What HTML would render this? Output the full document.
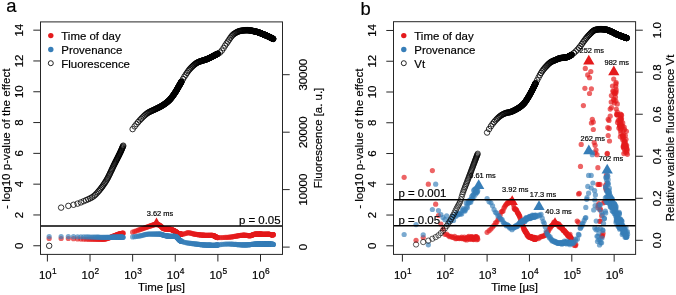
<!DOCTYPE html>
<html><head><meta charset="utf-8"><style>
html,body{margin:0;padding:0;background:#fff;width:676px;height:295px;overflow:hidden}
svg{display:block;will-change:transform}
</style></head><body>
<svg width="676" height="295" viewBox="0 0 676 295">
<rect width="676" height="295" fill="#fff"/>
<g fill="#E41A1C" fill-opacity="0.68"><circle cx="49.16" cy="238.5" r="2.6"/><circle cx="61.13" cy="238.5" r="2.6"/><circle cx="68.34" cy="238.5" r="2.6"/><circle cx="73.52" cy="238.66" r="2.6"/><circle cx="77.56" cy="238.89" r="2.6"/><circle cx="80.87" cy="239.03" r="2.6"/><circle cx="83.68" cy="239.14" r="2.6"/><circle cx="86.12" cy="239.23" r="2.6"/><circle cx="88.27" cy="239.29" r="2.6"/><circle cx="90.2" cy="239.3" r="2.6"/><circle cx="91.95" cy="239.3" r="2.6"/><circle cx="93.55" cy="239.3" r="2.6"/><circle cx="95.02" cy="239.3" r="2.6"/><circle cx="96.38" cy="239.3" r="2.6"/><circle cx="97.65" cy="239.3" r="2.6"/><circle cx="98.83" cy="239.3" r="2.6"/><circle cx="99.95" cy="239.3" r="2.6"/><circle cx="101" cy="239.3" r="2.6"/><circle cx="102" cy="239.3" r="2.6"/><circle cx="102.94" cy="239.3" r="2.6"/><circle cx="103.84" cy="239.26" r="2.6"/><circle cx="104.7" cy="239.13" r="2.6"/><circle cx="105.52" cy="238.95" r="2.6"/><circle cx="106.3" cy="238.74" r="2.6"/><circle cx="107.05" cy="238.5" r="2.6"/><circle cx="107.78" cy="238.26" r="2.6"/><circle cx="108.47" cy="238.02" r="2.6"/><circle cx="109.14" cy="237.78" r="2.6"/><circle cx="109.79" cy="237.57" r="2.6"/><circle cx="110.42" cy="237.36" r="2.6"/><circle cx="111.02" cy="237.14" r="2.6"/><circle cx="111.61" cy="236.91" r="2.6"/><circle cx="112.18" cy="236.67" r="2.6"/><circle cx="112.73" cy="236.43" r="2.6"/><circle cx="113.26" cy="236.2" r="2.6"/><circle cx="113.78" cy="235.98" r="2.6"/><circle cx="114.29" cy="235.78" r="2.6"/><circle cx="114.78" cy="235.58" r="2.6"/><circle cx="115.26" cy="235.4" r="2.6"/><circle cx="115.73" cy="235.23" r="2.6"/><circle cx="116.18" cy="235.06" r="2.6"/><circle cx="116.63" cy="234.89" r="2.6"/><circle cx="117.06" cy="234.73" r="2.6"/><circle cx="117.49" cy="234.57" r="2.6"/><circle cx="117.9" cy="234.43" r="2.6"/><circle cx="118.31" cy="234.29" r="2.6"/><circle cx="118.7" cy="234.16" r="2.6"/><circle cx="119.09" cy="234.04" r="2.6"/><circle cx="119.47" cy="233.93" r="2.6"/><circle cx="119.85" cy="233.84" r="2.6"/><circle cx="120.21" cy="233.75" r="2.6"/><circle cx="120.57" cy="233.67" r="2.6"/><circle cx="120.92" cy="233.59" r="2.6"/><circle cx="121.27" cy="233.52" r="2.6"/><circle cx="121.61" cy="233.45" r="2.6"/><circle cx="121.94" cy="233.38" r="2.6"/><circle cx="122.27" cy="233.32" r="2.6"/><circle cx="122.59" cy="233.26" r="2.6"/><circle cx="122.91" cy="233.21" r="2.6"/><circle cx="123.22" cy="233.16" r="2.6"/><circle cx="132.64" cy="232.2" r="2.6"/><circle cx="134.65" cy="231.47" r="2.6"/><circle cx="136.47" cy="230.81" r="2.6"/><circle cx="138.13" cy="230.22" r="2.6"/><circle cx="139.64" cy="229.68" r="2.6"/><circle cx="141.05" cy="229.18" r="2.6"/><circle cx="142.35" cy="228.72" r="2.6"/><circle cx="143.57" cy="228.29" r="2.6"/><circle cx="144.71" cy="227.89" r="2.6"/><circle cx="145.79" cy="227.51" r="2.6"/><circle cx="146.81" cy="227.16" r="2.6"/><circle cx="147.77" cy="226.82" r="2.6"/><circle cx="148.69" cy="226.49" r="2.6"/><circle cx="149.56" cy="226.19" r="2.6"/><circle cx="150.4" cy="225.9" r="2.6"/><circle cx="151.2" cy="225.63" r="2.6"/><circle cx="151.96" cy="225.37" r="2.6"/><circle cx="152.7" cy="225.14" r="2.6"/><circle cx="153.4" cy="224.87" r="2.6"/><circle cx="154.08" cy="224.6" r="2.6"/><circle cx="154.74" cy="224.35" r="2.6"/><circle cx="155.37" cy="224.16" r="2.6"/><circle cx="155.99" cy="224.04" r="2.6"/><circle cx="156.58" cy="224" r="2.6"/><circle cx="157.15" cy="224.08" r="2.6"/><circle cx="157.71" cy="224.26" r="2.6"/><circle cx="158.25" cy="224.51" r="2.6"/><circle cx="158.78" cy="224.79" r="2.6"/><circle cx="159.29" cy="225.09" r="2.6"/><circle cx="159.79" cy="225.38" r="2.6"/><circle cx="160.27" cy="225.67" r="2.6"/><circle cx="160.75" cy="226.05" r="2.6"/><circle cx="161.21" cy="226.48" r="2.6"/><circle cx="161.66" cy="226.94" r="2.6"/><circle cx="162.09" cy="227.39" r="2.6"/><circle cx="162.52" cy="227.81" r="2.6"/><circle cx="162.94" cy="228.17" r="2.6"/><circle cx="163.35" cy="228.45" r="2.6"/><circle cx="163.75" cy="228.64" r="2.6"/><circle cx="164.14" cy="228.72" r="2.6"/><circle cx="164.53" cy="228.78" r="2.6"/><circle cx="164.9" cy="228.82" r="2.6"/><circle cx="165.27" cy="228.85" r="2.6"/><circle cx="165.63" cy="228.88" r="2.6"/><circle cx="165.99" cy="228.91" r="2.6"/><circle cx="166.34" cy="228.93" r="2.6"/><circle cx="166.68" cy="228.95" r="2.6"/><circle cx="167.01" cy="228.96" r="2.6"/><circle cx="167.34" cy="228.98" r="2.6"/><circle cx="167.67" cy="229" r="2.6"/><circle cx="167.98" cy="229.02" r="2.6"/><circle cx="168.3" cy="229.03" r="2.6"/><circle cx="168.61" cy="229.06" r="2.6"/><circle cx="168.91" cy="229.08" r="2.6"/><circle cx="169.21" cy="229.11" r="2.6"/><circle cx="169.5" cy="229.14" r="2.6"/><circle cx="169.79" cy="229.17" r="2.6"/><circle cx="170.07" cy="229.21" r="2.6"/><circle cx="170.35" cy="229.26" r="2.6"/><circle cx="170.63" cy="229.32" r="2.6"/><circle cx="170.9" cy="229.39" r="2.6"/><circle cx="171.16" cy="229.47" r="2.6"/><circle cx="171.43" cy="229.56" r="2.6"/><circle cx="171.69" cy="229.65" r="2.6"/><circle cx="171.94" cy="229.75" r="2.6"/><circle cx="172.2" cy="229.86" r="2.6"/><circle cx="172.45" cy="229.96" r="2.6"/><circle cx="172.69" cy="230.07" r="2.6"/><circle cx="172.94" cy="230.19" r="2.6"/><circle cx="173.18" cy="230.3" r="2.6"/><circle cx="173.41" cy="230.42" r="2.6"/><circle cx="173.65" cy="230.53" r="2.6"/><circle cx="173.88" cy="230.65" r="2.6"/><circle cx="174.1" cy="230.76" r="2.6"/><circle cx="174.33" cy="230.87" r="2.6"/><circle cx="174.55" cy="230.98" r="2.6"/><circle cx="174.77" cy="231.09" r="2.6"/><circle cx="174.99" cy="231.2" r="2.6"/><circle cx="175.2" cy="231.3" r="2.6"/><circle cx="175.42" cy="231.43" r="2.6"/><circle cx="175.63" cy="231.56" r="2.6"/><circle cx="175.83" cy="231.7" r="2.6"/><circle cx="176.04" cy="231.85" r="2.6"/><circle cx="176.24" cy="232" r="2.6"/><circle cx="176.44" cy="232.16" r="2.6"/><circle cx="176.64" cy="232.31" r="2.6"/><circle cx="176.84" cy="232.47" r="2.6"/><circle cx="177.03" cy="232.63" r="2.6"/><circle cx="177.22" cy="232.78" r="2.6"/><circle cx="177.42" cy="232.93" r="2.6"/><circle cx="177.6" cy="233.08" r="2.6"/><circle cx="177.79" cy="233.22" r="2.6"/><circle cx="177.98" cy="233.36" r="2.6"/><circle cx="178.16" cy="233.48" r="2.6"/><circle cx="178.34" cy="233.6" r="2.6"/><circle cx="178.52" cy="233.71" r="2.6"/><circle cx="178.7" cy="233.82" r="2.6"/><circle cx="178.87" cy="233.91" r="2.6"/><circle cx="179.05" cy="233.98" r="2.6"/><circle cx="179.22" cy="234.05" r="2.6"/><circle cx="179.39" cy="234.11" r="2.6"/><circle cx="179.56" cy="234.15" r="2.6"/><circle cx="179.73" cy="234.18" r="2.6"/><circle cx="179.89" cy="234.2" r="2.6"/><circle cx="180.06" cy="234.2" r="2.6"/><circle cx="180.22" cy="234.2" r="2.6"/><circle cx="180.38" cy="234.2" r="2.6"/><circle cx="180.55" cy="234.19" r="2.6"/><circle cx="180.7" cy="234.19" r="2.6"/><circle cx="180.86" cy="234.18" r="2.6"/><circle cx="181.02" cy="234.17" r="2.6"/><circle cx="181.17" cy="234.16" r="2.6"/><circle cx="181.33" cy="234.15" r="2.6"/><circle cx="181.48" cy="234.14" r="2.6"/><circle cx="181.49" cy="234.14" r="2.6"/><circle cx="183.01" cy="233.99" r="2.6"/><circle cx="184.42" cy="233.79" r="2.6"/><circle cx="185.72" cy="233.49" r="2.6"/><circle cx="186.94" cy="232.95" r="2.6"/><circle cx="188.09" cy="232.7" r="2.6"/><circle cx="189.17" cy="232.79" r="2.6"/><circle cx="190.19" cy="232.98" r="2.6"/><circle cx="191.15" cy="233.22" r="2.6"/><circle cx="192.07" cy="233.49" r="2.6"/><circle cx="192.95" cy="233.74" r="2.6"/><circle cx="193.78" cy="233.96" r="2.6"/><circle cx="194.58" cy="234.13" r="2.6"/><circle cx="195.35" cy="234.25" r="2.6"/><circle cx="196.08" cy="234.36" r="2.6"/><circle cx="196.79" cy="234.46" r="2.6"/><circle cx="197.47" cy="234.55" r="2.6"/><circle cx="198.13" cy="234.64" r="2.6"/><circle cx="198.76" cy="234.72" r="2.6"/><circle cx="199.38" cy="234.79" r="2.6"/><circle cx="199.97" cy="234.86" r="2.6"/><circle cx="200.55" cy="234.93" r="2.6"/><circle cx="201.1" cy="234.98" r="2.6"/><circle cx="201.65" cy="235.03" r="2.6"/><circle cx="202.17" cy="235.08" r="2.6"/><circle cx="202.68" cy="235.12" r="2.6"/><circle cx="203.18" cy="235.15" r="2.6"/><circle cx="203.67" cy="235.18" r="2.6"/><circle cx="204.14" cy="235.21" r="2.6"/><circle cx="204.6" cy="235.23" r="2.6"/><circle cx="205.05" cy="235.25" r="2.6"/><circle cx="205.49" cy="235.26" r="2.6"/><circle cx="205.92" cy="235.27" r="2.6"/><circle cx="206.34" cy="235.29" r="2.6"/><circle cx="206.75" cy="235.3" r="2.6"/><circle cx="207.15" cy="235.3" r="2.6"/><circle cx="207.54" cy="235.31" r="2.6"/><circle cx="207.92" cy="235.32" r="2.6"/><circle cx="208.3" cy="235.33" r="2.6"/><circle cx="208.67" cy="235.34" r="2.6"/><circle cx="209.03" cy="235.34" r="2.6"/><circle cx="209.39" cy="235.35" r="2.6"/><circle cx="209.73" cy="235.36" r="2.6"/><circle cx="210.08" cy="235.37" r="2.6"/><circle cx="210.41" cy="235.38" r="2.6"/><circle cx="210.74" cy="235.39" r="2.6"/><circle cx="211.07" cy="235.4" r="2.6"/><circle cx="211.38" cy="235.41" r="2.6"/><circle cx="211.7" cy="235.43" r="2.6"/><circle cx="212" cy="235.44" r="2.6"/><circle cx="212.31" cy="235.46" r="2.6"/><circle cx="212.6" cy="235.47" r="2.6"/><circle cx="212.9" cy="235.49" r="2.6"/><circle cx="213.19" cy="235.52" r="2.6"/><circle cx="213.47" cy="235.58" r="2.6"/><circle cx="213.75" cy="235.66" r="2.6"/><circle cx="214.03" cy="235.77" r="2.6"/><circle cx="214.3" cy="235.9" r="2.6"/><circle cx="214.56" cy="236.04" r="2.6"/><circle cx="214.83" cy="236.19" r="2.6"/><circle cx="215.09" cy="236.34" r="2.6"/><circle cx="215.34" cy="236.5" r="2.6"/><circle cx="215.6" cy="236.65" r="2.6"/><circle cx="215.85" cy="236.8" r="2.6"/><circle cx="216.09" cy="236.95" r="2.6"/><circle cx="216.34" cy="237.08" r="2.6"/><circle cx="216.58" cy="237.21" r="2.6"/><circle cx="216.81" cy="237.32" r="2.6"/><circle cx="217.05" cy="237.41" r="2.6"/><circle cx="217.28" cy="237.49" r="2.6"/><circle cx="217.51" cy="237.55" r="2.6"/><circle cx="217.73" cy="237.58" r="2.6"/><circle cx="217.88" cy="237.6" r="2.6"/><circle cx="219.98" cy="237.58" r="2.6"/><circle cx="221.86" cy="237.54" r="2.6"/><circle cx="223.57" cy="237.49" r="2.6"/><circle cx="225.14" cy="237.43" r="2.6"/><circle cx="226.58" cy="237.37" r="2.6"/><circle cx="227.92" cy="237.3" r="2.6"/><circle cx="229.17" cy="237.22" r="2.6"/><circle cx="230.34" cy="237.1" r="2.6"/><circle cx="231.44" cy="236.95" r="2.6"/><circle cx="232.47" cy="236.79" r="2.6"/><circle cx="233.46" cy="236.62" r="2.6"/><circle cx="234.39" cy="236.46" r="2.6"/><circle cx="235.28" cy="236.29" r="2.6"/><circle cx="236.13" cy="236.13" r="2.6"/><circle cx="236.94" cy="235.99" r="2.6"/><circle cx="237.71" cy="235.85" r="2.6"/><circle cx="238.46" cy="235.72" r="2.6"/><circle cx="239.18" cy="235.61" r="2.6"/><circle cx="239.87" cy="235.51" r="2.6"/><circle cx="240.53" cy="235.43" r="2.6"/><circle cx="241.17" cy="235.35" r="2.6"/><circle cx="241.79" cy="235.3" r="2.6"/><circle cx="242.39" cy="235.25" r="2.6"/><circle cx="242.98" cy="235.22" r="2.6"/><circle cx="243.54" cy="235.2" r="2.6"/><circle cx="244.09" cy="235.2" r="2.6"/><circle cx="244.62" cy="235.21" r="2.6"/><circle cx="245.13" cy="235.25" r="2.6"/><circle cx="245.64" cy="235.29" r="2.6"/><circle cx="246.13" cy="235.34" r="2.6"/><circle cx="246.6" cy="235.4" r="2.6"/><circle cx="247.07" cy="235.46" r="2.6"/><circle cx="247.52" cy="235.51" r="2.6"/><circle cx="247.96" cy="235.57" r="2.6"/><circle cx="248.4" cy="235.61" r="2.6"/><circle cx="248.82" cy="235.65" r="2.6"/><circle cx="249.23" cy="235.68" r="2.6"/><circle cx="249.64" cy="235.69" r="2.6"/><circle cx="250.03" cy="235.7" r="2.6"/><circle cx="250.42" cy="235.67" r="2.6"/><circle cx="250.8" cy="235.6" r="2.6"/><circle cx="251.17" cy="235.49" r="2.6"/><circle cx="251.53" cy="235.36" r="2.6"/><circle cx="251.89" cy="235.22" r="2.6"/><circle cx="252.24" cy="235.07" r="2.6"/><circle cx="252.58" cy="234.91" r="2.6"/><circle cx="252.92" cy="234.76" r="2.6"/><circle cx="253.25" cy="234.62" r="2.6"/><circle cx="253.58" cy="234.49" r="2.6"/><circle cx="253.9" cy="234.39" r="2.6"/><circle cx="254.21" cy="234.3" r="2.6"/><circle cx="254.52" cy="234.24" r="2.6"/><circle cx="254.83" cy="234.21" r="2.6"/><circle cx="255.13" cy="234.2" r="2.6"/><circle cx="255.42" cy="234.2" r="2.6"/><circle cx="255.71" cy="234.2" r="2.6"/><circle cx="256" cy="234.2" r="2.6"/><circle cx="256.28" cy="234.2" r="2.6"/><circle cx="256.55" cy="234.2" r="2.6"/><circle cx="256.83" cy="234.2" r="2.6"/><circle cx="257.1" cy="234.2" r="2.6"/><circle cx="257.36" cy="234.2" r="2.6"/><circle cx="257.62" cy="234.2" r="2.6"/><circle cx="257.88" cy="234.2" r="2.6"/><circle cx="258.13" cy="234.2" r="2.6"/><circle cx="258.38" cy="234.2" r="2.6"/><circle cx="258.63" cy="234.2" r="2.6"/><circle cx="258.88" cy="234.2" r="2.6"/><circle cx="259.12" cy="234.21" r="2.6"/><circle cx="259.35" cy="234.21" r="2.6"/><circle cx="259.59" cy="234.21" r="2.6"/><circle cx="259.82" cy="234.21" r="2.6"/><circle cx="260.05" cy="234.21" r="2.6"/><circle cx="260.28" cy="234.21" r="2.6"/><circle cx="260.5" cy="234.21" r="2.6"/><circle cx="260.72" cy="234.22" r="2.6"/><circle cx="260.94" cy="234.22" r="2.6"/><circle cx="261.15" cy="234.22" r="2.6"/><circle cx="261.37" cy="234.22" r="2.6"/><circle cx="261.58" cy="234.22" r="2.6"/><circle cx="261.79" cy="234.23" r="2.6"/><circle cx="261.99" cy="234.23" r="2.6"/><circle cx="262.2" cy="234.23" r="2.6"/><circle cx="262.4" cy="234.23" r="2.6"/><circle cx="262.6" cy="234.24" r="2.6"/><circle cx="262.79" cy="234.24" r="2.6"/><circle cx="262.99" cy="234.24" r="2.6"/><circle cx="263.18" cy="234.25" r="2.6"/><circle cx="263.37" cy="234.25" r="2.6"/><circle cx="263.56" cy="234.25" r="2.6"/><circle cx="263.75" cy="234.26" r="2.6"/><circle cx="263.94" cy="234.26" r="2.6"/><circle cx="264.12" cy="234.27" r="2.6"/><circle cx="264.3" cy="234.27" r="2.6"/><circle cx="264.48" cy="234.27" r="2.6"/><circle cx="264.66" cy="234.28" r="2.6"/><circle cx="264.84" cy="234.28" r="2.6"/><circle cx="265.01" cy="234.29" r="2.6"/><circle cx="265.18" cy="234.29" r="2.6"/><circle cx="265.36" cy="234.3" r="2.6"/><circle cx="265.53" cy="234.3" r="2.6"/><circle cx="265.69" cy="234.3" r="2.6"/><circle cx="265.86" cy="234.31" r="2.6"/><circle cx="266.03" cy="234.31" r="2.6"/><circle cx="266.19" cy="234.32" r="2.6"/><circle cx="266.35" cy="234.33" r="2.6"/><circle cx="266.52" cy="234.33" r="2.6"/><circle cx="266.68" cy="234.34" r="2.6"/><circle cx="266.83" cy="234.34" r="2.6"/><circle cx="266.99" cy="234.35" r="2.6"/><circle cx="267.15" cy="234.35" r="2.6"/><circle cx="267.3" cy="234.36" r="2.6"/><circle cx="267.45" cy="234.37" r="2.6"/><circle cx="267.61" cy="234.37" r="2.6"/><circle cx="267.76" cy="234.38" r="2.6"/><circle cx="267.91" cy="234.38" r="2.6"/><circle cx="268.05" cy="234.39" r="2.6"/><circle cx="268.2" cy="234.4" r="2.6"/><circle cx="268.35" cy="234.4" r="2.6"/><circle cx="268.49" cy="234.41" r="2.6"/><circle cx="268.64" cy="234.42" r="2.6"/><circle cx="268.78" cy="234.42" r="2.6"/><circle cx="268.92" cy="234.43" r="2.6"/><circle cx="269.06" cy="234.44" r="2.6"/><circle cx="269.2" cy="234.45" r="2.6"/><circle cx="269.34" cy="234.45" r="2.6"/><circle cx="269.48" cy="234.46" r="2.6"/><circle cx="269.61" cy="234.47" r="2.6"/><circle cx="269.75" cy="234.47" r="2.6"/><circle cx="269.88" cy="234.48" r="2.6"/><circle cx="270.01" cy="234.49" r="2.6"/><circle cx="270.15" cy="234.5" r="2.6"/><circle cx="270.28" cy="234.51" r="2.6"/><circle cx="270.41" cy="234.51" r="2.6"/><circle cx="270.54" cy="234.52" r="2.6"/><circle cx="270.67" cy="234.53" r="2.6"/><circle cx="270.79" cy="234.54" r="2.6"/><circle cx="270.92" cy="234.55" r="2.6"/><circle cx="271.05" cy="234.55" r="2.6"/><circle cx="271.17" cy="234.56" r="2.6"/><circle cx="271.3" cy="234.57" r="2.6"/><circle cx="271.42" cy="234.58" r="2.6"/><circle cx="271.54" cy="234.59" r="2.6"/><circle cx="271.67" cy="234.6" r="2.6"/><circle cx="271.79" cy="234.61" r="2.6"/><circle cx="271.91" cy="234.61" r="2.6"/><circle cx="272.03" cy="234.62" r="2.6"/><circle cx="272.15" cy="234.63" r="2.6"/><circle cx="272.26" cy="234.64" r="2.6"/><circle cx="272.38" cy="234.65" r="2.6"/><circle cx="272.5" cy="234.66" r="2.6"/><circle cx="272.61" cy="234.67" r="2.6"/><circle cx="272.73" cy="234.68" r="2.6"/><circle cx="272.84" cy="234.69" r="2.6"/><circle cx="272.96" cy="234.7" r="2.6"/><circle cx="273.07" cy="234.71" r="2.6"/><circle cx="273.18" cy="234.72" r="2.6"/><circle cx="273.29" cy="234.72" r="2.6"/></g>
<g fill="#377EB8" fill-opacity="0.66"><circle cx="49.16" cy="236.6" r="2.6"/><circle cx="61.13" cy="236.6" r="2.6"/><circle cx="68.34" cy="236.6" r="2.6"/><circle cx="73.52" cy="236.66" r="2.6"/><circle cx="77.56" cy="236.75" r="2.6"/><circle cx="80.87" cy="236.82" r="2.6"/><circle cx="83.68" cy="236.87" r="2.6"/><circle cx="86.12" cy="236.92" r="2.6"/><circle cx="88.27" cy="236.97" r="2.6"/><circle cx="90.2" cy="237" r="2.6"/><circle cx="91.95" cy="237.04" r="2.6"/><circle cx="93.55" cy="237.08" r="2.6"/><circle cx="95.02" cy="237.12" r="2.6"/><circle cx="96.38" cy="237.16" r="2.6"/><circle cx="97.65" cy="237.19" r="2.6"/><circle cx="98.83" cy="237.22" r="2.6"/><circle cx="99.95" cy="237.24" r="2.6"/><circle cx="101" cy="237.26" r="2.6"/><circle cx="102" cy="237.28" r="2.6"/><circle cx="102.94" cy="237.29" r="2.6"/><circle cx="103.84" cy="237.3" r="2.6"/><circle cx="104.7" cy="237.3" r="2.6"/><circle cx="105.52" cy="237.3" r="2.6"/><circle cx="106.3" cy="237.3" r="2.6"/><circle cx="107.05" cy="237.29" r="2.6"/><circle cx="107.78" cy="237.28" r="2.6"/><circle cx="108.47" cy="237.27" r="2.6"/><circle cx="109.14" cy="237.26" r="2.6"/><circle cx="109.79" cy="237.25" r="2.6"/><circle cx="110.42" cy="237.24" r="2.6"/><circle cx="111.02" cy="237.23" r="2.6"/><circle cx="111.61" cy="237.23" r="2.6"/><circle cx="112.18" cy="237.22" r="2.6"/><circle cx="112.73" cy="237.21" r="2.6"/><circle cx="113.26" cy="237.21" r="2.6"/><circle cx="113.78" cy="237.2" r="2.6"/><circle cx="114.29" cy="237.2" r="2.6"/><circle cx="114.78" cy="237.2" r="2.6"/><circle cx="115.26" cy="237.2" r="2.6"/><circle cx="115.73" cy="237.2" r="2.6"/><circle cx="116.18" cy="237.2" r="2.6"/><circle cx="116.63" cy="237.2" r="2.6"/><circle cx="117.06" cy="237.2" r="2.6"/><circle cx="117.49" cy="237.2" r="2.6"/><circle cx="117.9" cy="237.2" r="2.6"/><circle cx="118.31" cy="237.2" r="2.6"/><circle cx="118.7" cy="237.2" r="2.6"/><circle cx="119.09" cy="237.2" r="2.6"/><circle cx="119.47" cy="237.2" r="2.6"/><circle cx="119.85" cy="237.2" r="2.6"/><circle cx="120.21" cy="237.2" r="2.6"/><circle cx="120.57" cy="237.2" r="2.6"/><circle cx="120.92" cy="237.2" r="2.6"/><circle cx="121.27" cy="237.2" r="2.6"/><circle cx="121.61" cy="237.2" r="2.6"/><circle cx="121.94" cy="237.2" r="2.6"/><circle cx="122.27" cy="237.2" r="2.6"/><circle cx="122.59" cy="237.22" r="2.6"/><circle cx="122.91" cy="237.24" r="2.6"/><circle cx="123.22" cy="237.27" r="2.6"/><circle cx="132.64" cy="236.94" r="2.6"/><circle cx="134.65" cy="236.68" r="2.6"/><circle cx="136.47" cy="236.43" r="2.6"/><circle cx="138.13" cy="236.19" r="2.6"/><circle cx="139.64" cy="235.94" r="2.6"/><circle cx="141.05" cy="235.65" r="2.6"/><circle cx="142.35" cy="235.32" r="2.6"/><circle cx="143.57" cy="235" r="2.6"/><circle cx="144.71" cy="234.7" r="2.6"/><circle cx="145.79" cy="234.45" r="2.6"/><circle cx="146.81" cy="234.25" r="2.6"/><circle cx="147.77" cy="234.1" r="2.6"/><circle cx="148.69" cy="234.02" r="2.6"/><circle cx="149.56" cy="234" r="2.6"/><circle cx="150.4" cy="234" r="2.6"/><circle cx="151.2" cy="234" r="2.6"/><circle cx="151.96" cy="234" r="2.6"/><circle cx="152.7" cy="234" r="2.6"/><circle cx="153.4" cy="234" r="2.6"/><circle cx="154.08" cy="234" r="2.6"/><circle cx="154.74" cy="234" r="2.6"/><circle cx="155.37" cy="234" r="2.6"/><circle cx="155.99" cy="234" r="2.6"/><circle cx="156.58" cy="234" r="2.6"/><circle cx="157.15" cy="234" r="2.6"/><circle cx="157.71" cy="234" r="2.6"/><circle cx="158.25" cy="234" r="2.6"/><circle cx="158.78" cy="234" r="2.6"/><circle cx="159.29" cy="234" r="2.6"/><circle cx="159.79" cy="234.01" r="2.6"/><circle cx="160.27" cy="234.06" r="2.6"/><circle cx="160.75" cy="234.17" r="2.6"/><circle cx="161.21" cy="234.31" r="2.6"/><circle cx="161.66" cy="234.48" r="2.6"/><circle cx="162.09" cy="234.65" r="2.6"/><circle cx="162.52" cy="234.82" r="2.6"/><circle cx="162.94" cy="234.98" r="2.6"/><circle cx="163.35" cy="235.12" r="2.6"/><circle cx="163.75" cy="235.24" r="2.6"/><circle cx="164.14" cy="235.33" r="2.6"/><circle cx="164.53" cy="235.41" r="2.6"/><circle cx="164.9" cy="235.5" r="2.6"/><circle cx="165.27" cy="235.57" r="2.6"/><circle cx="165.63" cy="235.65" r="2.6"/><circle cx="165.99" cy="235.72" r="2.6"/><circle cx="166.34" cy="235.79" r="2.6"/><circle cx="166.68" cy="235.86" r="2.6"/><circle cx="167.01" cy="235.92" r="2.6"/><circle cx="167.34" cy="235.98" r="2.6"/><circle cx="167.67" cy="236.03" r="2.6"/><circle cx="167.98" cy="236.08" r="2.6"/><circle cx="168.3" cy="236.13" r="2.6"/><circle cx="168.61" cy="236.17" r="2.6"/><circle cx="168.91" cy="236.2" r="2.6"/><circle cx="169.21" cy="236.24" r="2.6"/><circle cx="169.5" cy="236.26" r="2.6"/><circle cx="169.79" cy="236.29" r="2.6"/><circle cx="170.07" cy="236.3" r="2.6"/><circle cx="170.35" cy="236.32" r="2.6"/><circle cx="170.63" cy="236.33" r="2.6"/><circle cx="170.9" cy="236.34" r="2.6"/><circle cx="171.16" cy="236.35" r="2.6"/><circle cx="171.43" cy="236.36" r="2.6"/><circle cx="171.69" cy="236.37" r="2.6"/><circle cx="171.94" cy="236.37" r="2.6"/><circle cx="172.2" cy="236.38" r="2.6"/><circle cx="172.45" cy="236.39" r="2.6"/><circle cx="172.69" cy="236.39" r="2.6"/><circle cx="172.94" cy="236.4" r="2.6"/><circle cx="173.18" cy="236.4" r="2.6"/><circle cx="173.41" cy="236.41" r="2.6"/><circle cx="173.65" cy="236.41" r="2.6"/><circle cx="173.88" cy="236.42" r="2.6"/><circle cx="174.1" cy="236.43" r="2.6"/><circle cx="174.33" cy="236.44" r="2.6"/><circle cx="174.55" cy="236.45" r="2.6"/><circle cx="174.77" cy="236.46" r="2.6"/><circle cx="174.99" cy="236.47" r="2.6"/><circle cx="175.2" cy="236.48" r="2.6"/><circle cx="175.42" cy="236.49" r="2.6"/><circle cx="175.63" cy="236.52" r="2.6"/><circle cx="175.83" cy="236.57" r="2.6"/><circle cx="176.04" cy="236.64" r="2.6"/><circle cx="176.24" cy="236.75" r="2.6"/><circle cx="176.44" cy="236.87" r="2.6"/><circle cx="176.64" cy="237.02" r="2.6"/><circle cx="176.84" cy="237.18" r="2.6"/><circle cx="177.03" cy="237.35" r="2.6"/><circle cx="177.22" cy="237.54" r="2.6"/><circle cx="177.42" cy="237.74" r="2.6"/><circle cx="177.6" cy="237.94" r="2.6"/><circle cx="177.79" cy="238.14" r="2.6"/><circle cx="177.98" cy="238.35" r="2.6"/><circle cx="178.16" cy="238.56" r="2.6"/><circle cx="178.34" cy="238.77" r="2.6"/><circle cx="178.52" cy="238.98" r="2.6"/><circle cx="178.7" cy="239.19" r="2.6"/><circle cx="178.87" cy="239.39" r="2.6"/><circle cx="179.05" cy="239.58" r="2.6"/><circle cx="179.22" cy="239.76" r="2.6"/><circle cx="179.39" cy="239.94" r="2.6"/><circle cx="179.56" cy="240.1" r="2.6"/><circle cx="179.73" cy="240.26" r="2.6"/><circle cx="179.89" cy="240.4" r="2.6"/><circle cx="180.06" cy="240.53" r="2.6"/><circle cx="180.22" cy="240.64" r="2.6"/><circle cx="180.38" cy="240.74" r="2.6"/><circle cx="180.55" cy="240.82" r="2.6"/><circle cx="180.7" cy="240.9" r="2.6"/><circle cx="180.86" cy="240.98" r="2.6"/><circle cx="181.02" cy="241.05" r="2.6"/><circle cx="181.17" cy="241.12" r="2.6"/><circle cx="181.33" cy="241.19" r="2.6"/><circle cx="181.48" cy="241.26" r="2.6"/><circle cx="181.49" cy="241.26" r="2.6"/><circle cx="183.01" cy="241.85" r="2.6"/><circle cx="184.42" cy="242.26" r="2.6"/><circle cx="185.72" cy="242.55" r="2.6"/><circle cx="186.94" cy="242.79" r="2.6"/><circle cx="188.09" cy="242.99" r="2.6"/><circle cx="189.17" cy="243.15" r="2.6"/><circle cx="190.19" cy="243.29" r="2.6"/><circle cx="191.15" cy="243.42" r="2.6"/><circle cx="192.07" cy="243.54" r="2.6"/><circle cx="192.95" cy="243.65" r="2.6"/><circle cx="193.78" cy="243.75" r="2.6"/><circle cx="194.58" cy="243.85" r="2.6"/><circle cx="195.35" cy="243.94" r="2.6"/><circle cx="196.08" cy="244.04" r="2.6"/><circle cx="196.79" cy="244.13" r="2.6"/><circle cx="197.47" cy="244.22" r="2.6"/><circle cx="198.13" cy="244.31" r="2.6"/><circle cx="198.76" cy="244.39" r="2.6"/><circle cx="199.38" cy="244.47" r="2.6"/><circle cx="199.97" cy="244.54" r="2.6"/><circle cx="200.55" cy="244.6" r="2.6"/><circle cx="201.1" cy="244.66" r="2.6"/><circle cx="201.65" cy="244.72" r="2.6"/><circle cx="202.17" cy="244.77" r="2.6"/><circle cx="202.68" cy="244.81" r="2.6"/><circle cx="203.18" cy="244.85" r="2.6"/><circle cx="203.67" cy="244.88" r="2.6"/><circle cx="204.14" cy="244.91" r="2.6"/><circle cx="204.6" cy="244.93" r="2.6"/><circle cx="205.05" cy="244.96" r="2.6"/><circle cx="205.49" cy="244.98" r="2.6"/><circle cx="205.92" cy="245.01" r="2.6"/><circle cx="206.34" cy="245.03" r="2.6"/><circle cx="206.75" cy="245.05" r="2.6"/><circle cx="207.15" cy="245.07" r="2.6"/><circle cx="207.54" cy="245.09" r="2.6"/><circle cx="207.92" cy="245.11" r="2.6"/><circle cx="208.3" cy="245.12" r="2.6"/><circle cx="208.67" cy="245.14" r="2.6"/><circle cx="209.03" cy="245.16" r="2.6"/><circle cx="209.39" cy="245.17" r="2.6"/><circle cx="209.73" cy="245.19" r="2.6"/><circle cx="210.08" cy="245.2" r="2.6"/><circle cx="210.41" cy="245.21" r="2.6"/><circle cx="210.74" cy="245.22" r="2.6"/><circle cx="211.07" cy="245.23" r="2.6"/><circle cx="211.38" cy="245.24" r="2.6"/><circle cx="211.7" cy="245.25" r="2.6"/><circle cx="212" cy="245.26" r="2.6"/><circle cx="212.31" cy="245.27" r="2.6"/><circle cx="212.6" cy="245.27" r="2.6"/><circle cx="212.9" cy="245.28" r="2.6"/><circle cx="213.19" cy="245.28" r="2.6"/><circle cx="213.47" cy="245.29" r="2.6"/><circle cx="213.75" cy="245.29" r="2.6"/><circle cx="214.03" cy="245.3" r="2.6"/><circle cx="214.3" cy="245.3" r="2.6"/><circle cx="214.56" cy="245.3" r="2.6"/><circle cx="214.83" cy="245.3" r="2.6"/><circle cx="215.09" cy="245.3" r="2.6"/><circle cx="215.34" cy="245.29" r="2.6"/><circle cx="215.6" cy="245.27" r="2.6"/><circle cx="215.85" cy="245.24" r="2.6"/><circle cx="216.09" cy="245.21" r="2.6"/><circle cx="216.34" cy="245.17" r="2.6"/><circle cx="216.58" cy="245.13" r="2.6"/><circle cx="216.81" cy="245.09" r="2.6"/><circle cx="217.05" cy="245.04" r="2.6"/><circle cx="217.28" cy="245" r="2.6"/><circle cx="217.51" cy="244.97" r="2.6"/><circle cx="217.73" cy="244.93" r="2.6"/><circle cx="217.88" cy="244.91" r="2.6"/><circle cx="219.98" cy="244.67" r="2.6"/><circle cx="221.86" cy="244.44" r="2.6"/><circle cx="223.57" cy="244.25" r="2.6"/><circle cx="225.14" cy="244.11" r="2.6"/><circle cx="226.58" cy="244.03" r="2.6"/><circle cx="227.92" cy="244" r="2.6"/><circle cx="229.17" cy="244.01" r="2.6"/><circle cx="230.34" cy="244.05" r="2.6"/><circle cx="231.44" cy="244.11" r="2.6"/><circle cx="232.47" cy="244.17" r="2.6"/><circle cx="233.46" cy="244.24" r="2.6"/><circle cx="234.39" cy="244.32" r="2.6"/><circle cx="235.28" cy="244.39" r="2.6"/><circle cx="236.13" cy="244.46" r="2.6"/><circle cx="236.94" cy="244.53" r="2.6"/><circle cx="237.71" cy="244.59" r="2.6"/><circle cx="238.46" cy="244.65" r="2.6"/><circle cx="239.18" cy="244.7" r="2.6"/><circle cx="239.87" cy="244.75" r="2.6"/><circle cx="240.53" cy="244.79" r="2.6"/><circle cx="241.17" cy="244.83" r="2.6"/><circle cx="241.79" cy="244.85" r="2.6"/><circle cx="242.39" cy="244.87" r="2.6"/><circle cx="242.98" cy="244.89" r="2.6"/><circle cx="243.54" cy="244.9" r="2.6"/><circle cx="244.09" cy="244.9" r="2.6"/><circle cx="244.62" cy="244.9" r="2.6"/><circle cx="245.13" cy="244.89" r="2.6"/><circle cx="245.64" cy="244.87" r="2.6"/><circle cx="246.13" cy="244.85" r="2.6"/><circle cx="246.6" cy="244.83" r="2.6"/><circle cx="247.07" cy="244.8" r="2.6"/><circle cx="247.52" cy="244.78" r="2.6"/><circle cx="247.96" cy="244.75" r="2.6"/><circle cx="248.4" cy="244.72" r="2.6"/><circle cx="248.82" cy="244.68" r="2.6"/><circle cx="249.23" cy="244.65" r="2.6"/><circle cx="249.64" cy="244.62" r="2.6"/><circle cx="250.03" cy="244.58" r="2.6"/><circle cx="250.42" cy="244.55" r="2.6"/><circle cx="250.8" cy="244.51" r="2.6"/><circle cx="251.17" cy="244.48" r="2.6"/><circle cx="251.53" cy="244.44" r="2.6"/><circle cx="251.89" cy="244.41" r="2.6"/><circle cx="252.24" cy="244.38" r="2.6"/><circle cx="252.58" cy="244.35" r="2.6"/><circle cx="252.92" cy="244.31" r="2.6"/><circle cx="253.25" cy="244.28" r="2.6"/><circle cx="253.58" cy="244.25" r="2.6"/><circle cx="253.9" cy="244.23" r="2.6"/><circle cx="254.21" cy="244.2" r="2.6"/><circle cx="254.52" cy="244.17" r="2.6"/><circle cx="254.83" cy="244.15" r="2.6"/><circle cx="255.13" cy="244.12" r="2.6"/><circle cx="255.42" cy="244.1" r="2.6"/><circle cx="255.71" cy="244.08" r="2.6"/><circle cx="256" cy="244.06" r="2.6"/><circle cx="256.28" cy="244.04" r="2.6"/><circle cx="256.55" cy="244.02" r="2.6"/><circle cx="256.83" cy="244" r="2.6"/><circle cx="257.1" cy="243.99" r="2.6"/><circle cx="257.36" cy="243.97" r="2.6"/><circle cx="257.62" cy="243.96" r="2.6"/><circle cx="257.88" cy="243.95" r="2.6"/><circle cx="258.13" cy="243.94" r="2.6"/><circle cx="258.38" cy="243.93" r="2.6"/><circle cx="258.63" cy="243.92" r="2.6"/><circle cx="258.88" cy="243.91" r="2.6"/><circle cx="259.12" cy="243.91" r="2.6"/><circle cx="259.35" cy="243.9" r="2.6"/><circle cx="259.59" cy="243.9" r="2.6"/><circle cx="259.82" cy="243.9" r="2.6"/><circle cx="260.05" cy="243.9" r="2.6"/><circle cx="260.28" cy="243.9" r="2.6"/><circle cx="260.5" cy="243.9" r="2.6"/><circle cx="260.72" cy="243.9" r="2.6"/><circle cx="260.94" cy="243.9" r="2.6"/><circle cx="261.15" cy="243.9" r="2.6"/><circle cx="261.37" cy="243.9" r="2.6"/><circle cx="261.58" cy="243.91" r="2.6"/><circle cx="261.79" cy="243.91" r="2.6"/><circle cx="261.99" cy="243.91" r="2.6"/><circle cx="262.2" cy="243.91" r="2.6"/><circle cx="262.4" cy="243.91" r="2.6"/><circle cx="262.6" cy="243.92" r="2.6"/><circle cx="262.79" cy="243.92" r="2.6"/><circle cx="262.99" cy="243.92" r="2.6"/><circle cx="263.18" cy="243.93" r="2.6"/><circle cx="263.37" cy="243.93" r="2.6"/><circle cx="263.56" cy="243.93" r="2.6"/><circle cx="263.75" cy="243.94" r="2.6"/><circle cx="263.94" cy="243.94" r="2.6"/><circle cx="264.12" cy="243.94" r="2.6"/><circle cx="264.3" cy="243.95" r="2.6"/><circle cx="264.48" cy="243.95" r="2.6"/><circle cx="264.66" cy="243.96" r="2.6"/><circle cx="264.84" cy="243.96" r="2.6"/><circle cx="265.01" cy="243.97" r="2.6"/><circle cx="265.18" cy="243.97" r="2.6"/><circle cx="265.36" cy="243.98" r="2.6"/><circle cx="265.53" cy="243.98" r="2.6"/><circle cx="265.69" cy="243.99" r="2.6"/><circle cx="265.86" cy="243.99" r="2.6"/><circle cx="266.03" cy="244" r="2.6"/><circle cx="266.19" cy="244" r="2.6"/><circle cx="266.35" cy="244.01" r="2.6"/><circle cx="266.52" cy="244.01" r="2.6"/><circle cx="266.68" cy="244.02" r="2.6"/><circle cx="266.83" cy="244.03" r="2.6"/><circle cx="266.99" cy="244.03" r="2.6"/><circle cx="267.15" cy="244.04" r="2.6"/><circle cx="267.3" cy="244.05" r="2.6"/><circle cx="267.45" cy="244.05" r="2.6"/><circle cx="267.61" cy="244.06" r="2.6"/><circle cx="267.76" cy="244.07" r="2.6"/><circle cx="267.91" cy="244.07" r="2.6"/><circle cx="268.05" cy="244.08" r="2.6"/><circle cx="268.2" cy="244.09" r="2.6"/><circle cx="268.35" cy="244.09" r="2.6"/><circle cx="268.49" cy="244.1" r="2.6"/><circle cx="268.64" cy="244.11" r="2.6"/><circle cx="268.78" cy="244.11" r="2.6"/><circle cx="268.92" cy="244.12" r="2.6"/><circle cx="269.06" cy="244.13" r="2.6"/><circle cx="269.2" cy="244.14" r="2.6"/><circle cx="269.34" cy="244.15" r="2.6"/><circle cx="269.48" cy="244.15" r="2.6"/><circle cx="269.61" cy="244.16" r="2.6"/><circle cx="269.75" cy="244.17" r="2.6"/><circle cx="269.88" cy="244.18" r="2.6"/><circle cx="270.01" cy="244.18" r="2.6"/><circle cx="270.15" cy="244.19" r="2.6"/><circle cx="270.28" cy="244.2" r="2.6"/><circle cx="270.41" cy="244.21" r="2.6"/><circle cx="270.54" cy="244.22" r="2.6"/><circle cx="270.67" cy="244.23" r="2.6"/><circle cx="270.79" cy="244.23" r="2.6"/><circle cx="270.92" cy="244.24" r="2.6"/><circle cx="271.05" cy="244.25" r="2.6"/><circle cx="271.17" cy="244.26" r="2.6"/><circle cx="271.3" cy="244.27" r="2.6"/><circle cx="271.42" cy="244.28" r="2.6"/><circle cx="271.54" cy="244.29" r="2.6"/><circle cx="271.67" cy="244.3" r="2.6"/><circle cx="271.79" cy="244.3" r="2.6"/><circle cx="271.91" cy="244.31" r="2.6"/><circle cx="272.03" cy="244.32" r="2.6"/><circle cx="272.15" cy="244.33" r="2.6"/><circle cx="272.26" cy="244.34" r="2.6"/><circle cx="272.38" cy="244.35" r="2.6"/><circle cx="272.5" cy="244.36" r="2.6"/><circle cx="272.61" cy="244.37" r="2.6"/><circle cx="272.73" cy="244.38" r="2.6"/><circle cx="272.84" cy="244.39" r="2.6"/><circle cx="272.96" cy="244.4" r="2.6"/><circle cx="273.07" cy="244.41" r="2.6"/><circle cx="273.18" cy="244.42" r="2.6"/><circle cx="273.29" cy="244.42" r="2.6"/></g>
<path d="M156.5 217.5L162.13 227.25L150.87 227.25Z" fill="#E41A1C"/>
<g fill="none" stroke="#000" stroke-width="0.8"><circle cx="49.16" cy="245.8" r="2.75"/><circle cx="61.13" cy="207.62" r="2.75"/><circle cx="68.34" cy="205.89" r="2.75"/><circle cx="73.52" cy="204.75" r="2.75"/><circle cx="77.56" cy="203.64" r="2.75"/><circle cx="80.87" cy="202.42" r="2.75"/><circle cx="83.68" cy="201.2" r="2.75"/><circle cx="86.12" cy="200.13" r="2.75"/><circle cx="88.27" cy="199.21" r="2.75"/><circle cx="90.2" cy="198.31" r="2.75"/><circle cx="91.95" cy="197.36" r="2.75"/><circle cx="93.55" cy="196.31" r="2.75"/><circle cx="95.02" cy="195.07" r="2.75"/><circle cx="96.38" cy="193.7" r="2.75"/><circle cx="97.65" cy="192.31" r="2.75"/><circle cx="98.83" cy="190.93" r="2.75"/><circle cx="99.95" cy="189.6" r="2.75"/><circle cx="101" cy="188.29" r="2.75"/><circle cx="102" cy="186.98" r="2.75"/><circle cx="102.94" cy="185.67" r="2.75"/><circle cx="103.84" cy="184.36" r="2.75"/><circle cx="104.7" cy="183.06" r="2.75"/><circle cx="105.52" cy="181.78" r="2.75"/><circle cx="106.3" cy="180.5" r="2.75"/><circle cx="107.05" cy="179.22" r="2.75"/><circle cx="107.78" cy="177.91" r="2.75"/><circle cx="108.47" cy="176.57" r="2.75"/><circle cx="109.14" cy="175.23" r="2.75"/><circle cx="109.79" cy="173.89" r="2.75"/><circle cx="110.42" cy="172.58" r="2.75"/><circle cx="111.02" cy="171.29" r="2.75"/><circle cx="111.61" cy="170.03" r="2.75"/><circle cx="112.18" cy="168.82" r="2.75"/><circle cx="112.73" cy="167.65" r="2.75"/><circle cx="113.26" cy="166.52" r="2.75"/><circle cx="113.78" cy="165.45" r="2.75"/><circle cx="114.29" cy="164.42" r="2.75"/><circle cx="114.78" cy="163.44" r="2.75"/><circle cx="115.26" cy="162.49" r="2.75"/><circle cx="115.73" cy="161.57" r="2.75"/><circle cx="116.18" cy="160.67" r="2.75"/><circle cx="116.63" cy="159.8" r="2.75"/><circle cx="117.06" cy="158.95" r="2.75"/><circle cx="117.49" cy="158.12" r="2.75"/><circle cx="117.9" cy="157.3" r="2.75"/><circle cx="118.31" cy="156.49" r="2.75"/><circle cx="118.7" cy="155.69" r="2.75"/><circle cx="119.09" cy="154.91" r="2.75"/><circle cx="119.47" cy="154.13" r="2.75"/><circle cx="119.85" cy="153.35" r="2.75"/><circle cx="120.21" cy="152.58" r="2.75"/><circle cx="120.57" cy="151.82" r="2.75"/><circle cx="120.92" cy="151.05" r="2.75"/><circle cx="121.27" cy="150.29" r="2.75"/><circle cx="121.61" cy="149.53" r="2.75"/><circle cx="121.94" cy="148.76" r="2.75"/><circle cx="122.27" cy="147.99" r="2.75"/><circle cx="122.59" cy="147.21" r="2.75"/><circle cx="122.91" cy="146.43" r="2.75"/><circle cx="123.22" cy="145.66" r="2.75"/><circle cx="132.64" cy="129.11" r="2.75"/><circle cx="134.65" cy="126.38" r="2.75"/><circle cx="136.47" cy="124.06" r="2.75"/><circle cx="138.13" cy="122.08" r="2.75"/><circle cx="139.64" cy="120.39" r="2.75"/><circle cx="141.05" cy="118.92" r="2.75"/><circle cx="142.35" cy="117.58" r="2.75"/><circle cx="143.57" cy="116.38" r="2.75"/><circle cx="144.71" cy="115.31" r="2.75"/><circle cx="145.79" cy="114.38" r="2.75"/><circle cx="146.81" cy="113.58" r="2.75"/><circle cx="147.77" cy="112.92" r="2.75"/><circle cx="148.69" cy="112.36" r="2.75"/><circle cx="149.56" cy="111.88" r="2.75"/><circle cx="150.4" cy="111.46" r="2.75"/><circle cx="151.2" cy="111.08" r="2.75"/><circle cx="151.96" cy="110.73" r="2.75"/><circle cx="152.7" cy="110.4" r="2.75"/><circle cx="153.4" cy="110.08" r="2.75"/><circle cx="154.08" cy="109.78" r="2.75"/><circle cx="154.74" cy="109.47" r="2.75"/><circle cx="155.37" cy="109.16" r="2.75"/><circle cx="155.99" cy="108.86" r="2.75"/><circle cx="156.58" cy="108.57" r="2.75"/><circle cx="157.15" cy="108.3" r="2.75"/><circle cx="157.71" cy="108.03" r="2.75"/><circle cx="158.25" cy="107.77" r="2.75"/><circle cx="158.78" cy="107.51" r="2.75"/><circle cx="159.29" cy="107.26" r="2.75"/><circle cx="159.79" cy="107.01" r="2.75"/><circle cx="160.27" cy="106.75" r="2.75"/><circle cx="160.75" cy="106.49" r="2.75"/><circle cx="161.21" cy="106.23" r="2.75"/><circle cx="161.66" cy="105.97" r="2.75"/><circle cx="162.09" cy="105.7" r="2.75"/><circle cx="162.52" cy="105.44" r="2.75"/><circle cx="162.94" cy="105.17" r="2.75"/><circle cx="163.35" cy="104.91" r="2.75"/><circle cx="163.75" cy="104.65" r="2.75"/><circle cx="164.14" cy="104.39" r="2.75"/><circle cx="164.53" cy="104.12" r="2.75"/><circle cx="164.9" cy="103.86" r="2.75"/><circle cx="165.27" cy="103.59" r="2.75"/><circle cx="165.63" cy="103.33" r="2.75"/><circle cx="165.99" cy="103.06" r="2.75"/><circle cx="166.34" cy="102.79" r="2.75"/><circle cx="166.68" cy="102.52" r="2.75"/><circle cx="167.01" cy="102.25" r="2.75"/><circle cx="167.34" cy="101.98" r="2.75"/><circle cx="167.67" cy="101.7" r="2.75"/><circle cx="167.98" cy="101.43" r="2.75"/><circle cx="168.3" cy="101.15" r="2.75"/><circle cx="168.61" cy="100.87" r="2.75"/><circle cx="168.91" cy="100.59" r="2.75"/><circle cx="169.21" cy="100.3" r="2.75"/><circle cx="169.5" cy="100.01" r="2.75"/><circle cx="169.79" cy="99.71" r="2.75"/><circle cx="170.07" cy="99.4" r="2.75"/><circle cx="170.35" cy="99.08" r="2.75"/><circle cx="170.63" cy="98.76" r="2.75"/><circle cx="170.9" cy="98.44" r="2.75"/><circle cx="171.16" cy="98.11" r="2.75"/><circle cx="171.43" cy="97.78" r="2.75"/><circle cx="171.69" cy="97.45" r="2.75"/><circle cx="171.94" cy="97.12" r="2.75"/><circle cx="172.2" cy="96.78" r="2.75"/><circle cx="172.45" cy="96.45" r="2.75"/><circle cx="172.69" cy="96.11" r="2.75"/><circle cx="172.94" cy="95.78" r="2.75"/><circle cx="173.18" cy="95.44" r="2.75"/><circle cx="173.41" cy="95.11" r="2.75"/><circle cx="173.65" cy="94.77" r="2.75"/><circle cx="173.88" cy="94.44" r="2.75"/><circle cx="174.1" cy="94.11" r="2.75"/><circle cx="174.33" cy="93.78" r="2.75"/><circle cx="174.55" cy="93.46" r="2.75"/><circle cx="174.77" cy="93.14" r="2.75"/><circle cx="174.99" cy="92.82" r="2.75"/><circle cx="175.2" cy="92.49" r="2.75"/><circle cx="175.42" cy="92.17" r="2.75"/><circle cx="175.63" cy="91.84" r="2.75"/><circle cx="175.83" cy="91.5" r="2.75"/><circle cx="176.04" cy="91.16" r="2.75"/><circle cx="176.24" cy="90.82" r="2.75"/><circle cx="176.44" cy="90.48" r="2.75"/><circle cx="176.64" cy="90.14" r="2.75"/><circle cx="176.84" cy="89.8" r="2.75"/><circle cx="177.03" cy="89.46" r="2.75"/><circle cx="177.22" cy="89.12" r="2.75"/><circle cx="177.42" cy="88.78" r="2.75"/><circle cx="177.6" cy="88.45" r="2.75"/><circle cx="177.79" cy="88.11" r="2.75"/><circle cx="177.98" cy="87.78" r="2.75"/><circle cx="178.16" cy="87.46" r="2.75"/><circle cx="178.34" cy="87.13" r="2.75"/><circle cx="178.52" cy="86.81" r="2.75"/><circle cx="178.7" cy="86.5" r="2.75"/><circle cx="178.87" cy="86.19" r="2.75"/><circle cx="179.05" cy="85.88" r="2.75"/><circle cx="179.22" cy="85.58" r="2.75"/><circle cx="179.39" cy="85.29" r="2.75"/><circle cx="179.56" cy="85" r="2.75"/><circle cx="179.73" cy="84.71" r="2.75"/><circle cx="179.89" cy="84.43" r="2.75"/><circle cx="180.06" cy="84.14" r="2.75"/><circle cx="180.22" cy="83.86" r="2.75"/><circle cx="180.38" cy="83.58" r="2.75"/><circle cx="180.55" cy="83.3" r="2.75"/><circle cx="180.7" cy="83.02" r="2.75"/><circle cx="180.86" cy="82.74" r="2.75"/><circle cx="181.02" cy="82.47" r="2.75"/><circle cx="181.17" cy="82.2" r="2.75"/><circle cx="181.33" cy="81.93" r="2.75"/><circle cx="181.48" cy="81.66" r="2.75"/><circle cx="181.49" cy="81.65" r="2.75"/><circle cx="183.01" cy="79.01" r="2.75"/><circle cx="184.42" cy="76.7" r="2.75"/><circle cx="185.72" cy="74.71" r="2.75"/><circle cx="186.94" cy="72.89" r="2.75"/><circle cx="188.09" cy="71.25" r="2.75"/><circle cx="189.17" cy="69.83" r="2.75"/><circle cx="190.19" cy="68.63" r="2.75"/><circle cx="191.15" cy="67.63" r="2.75"/><circle cx="192.07" cy="66.71" r="2.75"/><circle cx="192.95" cy="65.88" r="2.75"/><circle cx="193.78" cy="65.12" r="2.75"/><circle cx="194.58" cy="64.45" r="2.75"/><circle cx="195.35" cy="63.86" r="2.75"/><circle cx="196.08" cy="63.34" r="2.75"/><circle cx="196.79" cy="62.89" r="2.75"/><circle cx="197.47" cy="62.51" r="2.75"/><circle cx="198.13" cy="62.19" r="2.75"/><circle cx="198.76" cy="61.91" r="2.75"/><circle cx="199.38" cy="61.66" r="2.75"/><circle cx="199.97" cy="61.43" r="2.75"/><circle cx="200.55" cy="61.23" r="2.75"/><circle cx="201.1" cy="61.04" r="2.75"/><circle cx="201.65" cy="60.87" r="2.75"/><circle cx="202.17" cy="60.71" r="2.75"/><circle cx="202.68" cy="60.55" r="2.75"/><circle cx="203.18" cy="60.4" r="2.75"/><circle cx="203.67" cy="60.26" r="2.75"/><circle cx="204.14" cy="60.11" r="2.75"/><circle cx="204.6" cy="59.97" r="2.75"/><circle cx="205.05" cy="59.83" r="2.75"/><circle cx="205.49" cy="59.68" r="2.75"/><circle cx="205.92" cy="59.53" r="2.75"/><circle cx="206.34" cy="59.38" r="2.75"/><circle cx="206.75" cy="59.22" r="2.75"/><circle cx="207.15" cy="59.06" r="2.75"/><circle cx="207.54" cy="58.9" r="2.75"/><circle cx="207.92" cy="58.73" r="2.75"/><circle cx="208.3" cy="58.56" r="2.75"/><circle cx="208.67" cy="58.4" r="2.75"/><circle cx="209.03" cy="58.23" r="2.75"/><circle cx="209.39" cy="58.06" r="2.75"/><circle cx="209.73" cy="57.89" r="2.75"/><circle cx="210.08" cy="57.72" r="2.75"/><circle cx="210.41" cy="57.56" r="2.75"/><circle cx="210.74" cy="57.39" r="2.75"/><circle cx="211.07" cy="57.22" r="2.75"/><circle cx="211.38" cy="57.06" r="2.75"/><circle cx="211.7" cy="56.9" r="2.75"/><circle cx="212" cy="56.74" r="2.75"/><circle cx="212.31" cy="56.58" r="2.75"/><circle cx="212.6" cy="56.42" r="2.75"/><circle cx="212.9" cy="56.27" r="2.75"/><circle cx="213.19" cy="56.11" r="2.75"/><circle cx="213.47" cy="55.96" r="2.75"/><circle cx="213.75" cy="55.81" r="2.75"/><circle cx="214.03" cy="55.66" r="2.75"/><circle cx="214.3" cy="55.52" r="2.75"/><circle cx="214.56" cy="55.38" r="2.75"/><circle cx="214.83" cy="55.23" r="2.75"/><circle cx="215.09" cy="55.1" r="2.75"/><circle cx="215.34" cy="54.96" r="2.75"/><circle cx="215.6" cy="54.83" r="2.75"/><circle cx="215.85" cy="54.69" r="2.75"/><circle cx="216.09" cy="54.56" r="2.75"/><circle cx="216.34" cy="54.44" r="2.75"/><circle cx="216.58" cy="54.31" r="2.75"/><circle cx="216.81" cy="54.19" r="2.75"/><circle cx="217.05" cy="54.08" r="2.75"/><circle cx="217.28" cy="53.97" r="2.75"/><circle cx="217.51" cy="53.86" r="2.75"/><circle cx="217.73" cy="53.76" r="2.75"/><circle cx="217.88" cy="53.69" r="2.75"/><circle cx="219.98" cy="52.52" r="2.75"/><circle cx="221.86" cy="50.55" r="2.75"/><circle cx="223.57" cy="48.06" r="2.75"/><circle cx="225.14" cy="45.56" r="2.75"/><circle cx="226.58" cy="43.4" r="2.75"/><circle cx="227.92" cy="41.52" r="2.75"/><circle cx="229.17" cy="39.64" r="2.75"/><circle cx="230.34" cy="37.91" r="2.75"/><circle cx="231.44" cy="36.41" r="2.75"/><circle cx="232.47" cy="35.2" r="2.75"/><circle cx="233.46" cy="34.3" r="2.75"/><circle cx="234.39" cy="33.65" r="2.75"/><circle cx="235.28" cy="33.08" r="2.75"/><circle cx="236.13" cy="32.57" r="2.75"/><circle cx="236.94" cy="32.13" r="2.75"/><circle cx="237.71" cy="31.75" r="2.75"/><circle cx="238.46" cy="31.44" r="2.75"/><circle cx="239.18" cy="31.2" r="2.75"/><circle cx="239.87" cy="31.01" r="2.75"/><circle cx="240.53" cy="30.88" r="2.75"/><circle cx="241.17" cy="30.77" r="2.75"/><circle cx="241.79" cy="30.67" r="2.75"/><circle cx="242.39" cy="30.58" r="2.75"/><circle cx="242.98" cy="30.5" r="2.75"/><circle cx="243.54" cy="30.43" r="2.75"/><circle cx="244.09" cy="30.37" r="2.75"/><circle cx="244.62" cy="30.32" r="2.75"/><circle cx="245.13" cy="30.28" r="2.75"/><circle cx="245.64" cy="30.24" r="2.75"/><circle cx="246.13" cy="30.22" r="2.75"/><circle cx="246.6" cy="30.21" r="2.75"/><circle cx="247.07" cy="30.2" r="2.75"/><circle cx="247.52" cy="30.21" r="2.75"/><circle cx="247.96" cy="30.22" r="2.75"/><circle cx="248.4" cy="30.25" r="2.75"/><circle cx="248.82" cy="30.29" r="2.75"/><circle cx="249.23" cy="30.33" r="2.75"/><circle cx="249.64" cy="30.38" r="2.75"/><circle cx="250.03" cy="30.43" r="2.75"/><circle cx="250.42" cy="30.49" r="2.75"/><circle cx="250.8" cy="30.56" r="2.75"/><circle cx="251.17" cy="30.62" r="2.75"/><circle cx="251.53" cy="30.69" r="2.75"/><circle cx="251.89" cy="30.76" r="2.75"/><circle cx="252.24" cy="30.83" r="2.75"/><circle cx="252.58" cy="30.9" r="2.75"/><circle cx="252.92" cy="30.97" r="2.75"/><circle cx="253.25" cy="31.05" r="2.75"/><circle cx="253.58" cy="31.12" r="2.75"/><circle cx="253.9" cy="31.19" r="2.75"/><circle cx="254.21" cy="31.26" r="2.75"/><circle cx="254.52" cy="31.33" r="2.75"/><circle cx="254.83" cy="31.4" r="2.75"/><circle cx="255.13" cy="31.46" r="2.75"/><circle cx="255.42" cy="31.53" r="2.75"/><circle cx="255.71" cy="31.59" r="2.75"/><circle cx="256" cy="31.66" r="2.75"/><circle cx="256.28" cy="31.73" r="2.75"/><circle cx="256.55" cy="31.81" r="2.75"/><circle cx="256.83" cy="31.88" r="2.75"/><circle cx="257.1" cy="31.96" r="2.75"/><circle cx="257.36" cy="32.04" r="2.75"/><circle cx="257.62" cy="32.12" r="2.75"/><circle cx="257.88" cy="32.2" r="2.75"/><circle cx="258.13" cy="32.29" r="2.75"/><circle cx="258.38" cy="32.37" r="2.75"/><circle cx="258.63" cy="32.46" r="2.75"/><circle cx="258.88" cy="32.54" r="2.75"/><circle cx="259.12" cy="32.63" r="2.75"/><circle cx="259.35" cy="32.71" r="2.75"/><circle cx="259.59" cy="32.8" r="2.75"/><circle cx="259.82" cy="32.89" r="2.75"/><circle cx="260.05" cy="32.97" r="2.75"/><circle cx="260.28" cy="33.06" r="2.75"/><circle cx="260.5" cy="33.14" r="2.75"/><circle cx="260.72" cy="33.23" r="2.75"/><circle cx="260.94" cy="33.32" r="2.75"/><circle cx="261.15" cy="33.4" r="2.75"/><circle cx="261.37" cy="33.49" r="2.75"/><circle cx="261.58" cy="33.57" r="2.75"/><circle cx="261.79" cy="33.66" r="2.75"/><circle cx="261.99" cy="33.74" r="2.75"/><circle cx="262.2" cy="33.82" r="2.75"/><circle cx="262.4" cy="33.91" r="2.75"/><circle cx="262.6" cy="33.99" r="2.75"/><circle cx="262.79" cy="34.07" r="2.75"/><circle cx="262.99" cy="34.15" r="2.75"/><circle cx="263.18" cy="34.23" r="2.75"/><circle cx="263.37" cy="34.31" r="2.75"/><circle cx="263.56" cy="34.39" r="2.75"/><circle cx="263.75" cy="34.47" r="2.75"/><circle cx="263.94" cy="34.54" r="2.75"/><circle cx="264.12" cy="34.62" r="2.75"/><circle cx="264.3" cy="34.69" r="2.75"/><circle cx="264.48" cy="34.77" r="2.75"/><circle cx="264.66" cy="34.84" r="2.75"/><circle cx="264.84" cy="34.91" r="2.75"/><circle cx="265.01" cy="34.99" r="2.75"/><circle cx="265.18" cy="35.06" r="2.75"/><circle cx="265.36" cy="35.13" r="2.75"/><circle cx="265.53" cy="35.2" r="2.75"/><circle cx="265.69" cy="35.27" r="2.75"/><circle cx="265.86" cy="35.35" r="2.75"/><circle cx="266.03" cy="35.42" r="2.75"/><circle cx="266.19" cy="35.49" r="2.75"/><circle cx="266.35" cy="35.56" r="2.75"/><circle cx="266.52" cy="35.63" r="2.75"/><circle cx="266.68" cy="35.7" r="2.75"/><circle cx="266.83" cy="35.77" r="2.75"/><circle cx="266.99" cy="35.84" r="2.75"/><circle cx="267.15" cy="35.91" r="2.75"/><circle cx="267.3" cy="35.98" r="2.75"/><circle cx="267.45" cy="36.05" r="2.75"/><circle cx="267.61" cy="36.12" r="2.75"/><circle cx="267.76" cy="36.19" r="2.75"/><circle cx="267.91" cy="36.26" r="2.75"/><circle cx="268.05" cy="36.32" r="2.75"/><circle cx="268.2" cy="36.39" r="2.75"/><circle cx="268.35" cy="36.46" r="2.75"/><circle cx="268.49" cy="36.53" r="2.75"/><circle cx="268.64" cy="36.6" r="2.75"/><circle cx="268.78" cy="36.66" r="2.75"/><circle cx="268.92" cy="36.73" r="2.75"/><circle cx="269.06" cy="36.8" r="2.75"/><circle cx="269.2" cy="36.87" r="2.75"/><circle cx="269.34" cy="36.93" r="2.75"/><circle cx="269.48" cy="37" r="2.75"/><circle cx="269.61" cy="37.06" r="2.75"/><circle cx="269.75" cy="37.13" r="2.75"/><circle cx="269.88" cy="37.2" r="2.75"/><circle cx="270.01" cy="37.26" r="2.75"/><circle cx="270.15" cy="37.33" r="2.75"/><circle cx="270.28" cy="37.39" r="2.75"/><circle cx="270.41" cy="37.46" r="2.75"/><circle cx="270.54" cy="37.52" r="2.75"/><circle cx="270.67" cy="37.59" r="2.75"/><circle cx="270.79" cy="37.65" r="2.75"/><circle cx="270.92" cy="37.71" r="2.75"/><circle cx="271.05" cy="37.78" r="2.75"/><circle cx="271.17" cy="37.84" r="2.75"/><circle cx="271.3" cy="37.9" r="2.75"/><circle cx="271.42" cy="37.97" r="2.75"/><circle cx="271.54" cy="38.03" r="2.75"/><circle cx="271.67" cy="38.09" r="2.75"/><circle cx="271.79" cy="38.15" r="2.75"/><circle cx="271.91" cy="38.22" r="2.75"/><circle cx="272.03" cy="38.28" r="2.75"/><circle cx="272.15" cy="38.34" r="2.75"/><circle cx="272.26" cy="38.4" r="2.75"/><circle cx="272.38" cy="38.46" r="2.75"/><circle cx="272.5" cy="38.52" r="2.75"/><circle cx="272.61" cy="38.58" r="2.75"/><circle cx="272.73" cy="38.64" r="2.75"/><circle cx="272.84" cy="38.7" r="2.75"/><circle cx="272.96" cy="38.76" r="2.75"/><circle cx="273.07" cy="38.82" r="2.75"/><circle cx="273.18" cy="38.88" r="2.75"/><circle cx="273.29" cy="38.94" r="2.75"/></g>
<line x1="40.5" y1="226" x2="282.5" y2="226" stroke="#000" stroke-width="1.6"/>
<g stroke="#262626" stroke-width="1" fill="none">
<rect x="40.5" y="21.9" width="242" height="232.5"/>
<line x1="47.4" y1="254.1" x2="47.4" y2="261.5"/>
<line x1="90.02" y1="254.1" x2="90.02" y2="261.5"/>
<line x1="132.64" y1="254.1" x2="132.64" y2="261.5"/>
<line x1="175.26" y1="254.1" x2="175.26" y2="261.5"/>
<line x1="217.88" y1="254.1" x2="217.88" y2="261.5"/>
<line x1="260.5" y1="254.1" x2="260.5" y2="261.5"/>
<line x1="33.3" y1="245.76" x2="40.5" y2="245.76"/>
<line x1="33.3" y1="214.96" x2="40.5" y2="214.96"/>
<line x1="33.3" y1="184.16" x2="40.5" y2="184.16"/>
<line x1="33.3" y1="153.36" x2="40.5" y2="153.36"/>
<line x1="33.3" y1="122.56" x2="40.5" y2="122.56"/>
<line x1="33.3" y1="91.76" x2="40.5" y2="91.76"/>
<line x1="33.3" y1="60.96" x2="40.5" y2="60.96"/>
<line x1="33.3" y1="30.16" x2="40.5" y2="30.16"/>
<line x1="282.5" y1="247.1" x2="289.7" y2="247.1"/>
<line x1="282.5" y1="189.6" x2="289.7" y2="189.6"/>
<line x1="282.5" y1="132.2" x2="289.7" y2="132.2"/>
<line x1="282.5" y1="74.7" x2="289.7" y2="74.7"/>
</g>
<g font-family='&quot;Liberation Sans&quot;, sans-serif' fill="#000" stroke="#000" stroke-width="0.18">
<text x="39" y="279.3" font-size="11.45" text-anchor="start">10</text>
<text x="51.93" y="274.2" font-size="8.4" text-anchor="start">1</text>
<text x="81.62" y="279.3" font-size="11.45" text-anchor="start">10</text>
<text x="94.55" y="274.2" font-size="8.4" text-anchor="start">2</text>
<text x="124.24" y="279.3" font-size="11.45" text-anchor="start">10</text>
<text x="137.17" y="274.2" font-size="8.4" text-anchor="start">3</text>
<text x="166.86" y="279.3" font-size="11.45" text-anchor="start">10</text>
<text x="179.79" y="274.2" font-size="8.4" text-anchor="start">4</text>
<text x="209.48" y="279.3" font-size="11.45" text-anchor="start">10</text>
<text x="222.41" y="274.2" font-size="8.4" text-anchor="start">5</text>
<text x="252.1" y="279.3" font-size="11.45" text-anchor="start">10</text>
<text x="265.03" y="274.2" font-size="8.4" text-anchor="start">6</text>
<text x="0" y="0" font-size="11.45" text-anchor="middle" transform="translate(23.4 245.76) rotate(-90)">0</text>
<text x="0" y="0" font-size="11.45" text-anchor="middle" transform="translate(23.4 214.96) rotate(-90)">2</text>
<text x="0" y="0" font-size="11.45" text-anchor="middle" transform="translate(23.4 184.16) rotate(-90)">4</text>
<text x="0" y="0" font-size="11.45" text-anchor="middle" transform="translate(23.4 153.36) rotate(-90)">6</text>
<text x="0" y="0" font-size="11.45" text-anchor="middle" transform="translate(23.4 122.56) rotate(-90)">8</text>
<text x="0" y="0" font-size="11.45" text-anchor="middle" transform="translate(23.4 91.76) rotate(-90)">10</text>
<text x="0" y="0" font-size="11.45" text-anchor="middle" transform="translate(23.4 60.96) rotate(-90)">12</text>
<text x="0" y="0" font-size="11.45" text-anchor="middle" transform="translate(23.4 30.16) rotate(-90)">14</text>
<text x="0" y="0" font-size="11.45" text-anchor="middle" transform="translate(307.4 247.1) rotate(-90)">0</text>
<text x="0" y="0" font-size="11.45" text-anchor="middle" transform="translate(307.4 189.6) rotate(-90)">10000</text>
<text x="0" y="0" font-size="11.45" text-anchor="middle" transform="translate(307.4 132.2) rotate(-90)">20000</text>
<text x="0" y="0" font-size="11.45" text-anchor="middle" transform="translate(307.4 74.7) rotate(-90)">30000</text>
<text x="0" y="0" font-size="11.6" text-anchor="middle" transform="translate(10 138.75) rotate(-90)">- log10 p-value of the effect</text>
<text x="0" y="0" font-size="11.45" text-anchor="middle" transform="translate(321.6 137.95) rotate(-90)">Fluorescence [a. u.]</text>
<text x="161.5" y="290.5" font-size="11.45" text-anchor="middle">Time [µs]</text>
<text x="280.6" y="223.8" font-size="11.45" text-anchor="end">p = 0.05</text>
<text x="160" y="215.9" font-size="7.45" text-anchor="middle">3.62 ms</text>
<text x="6.3" y="11.5" font-size="18.4" text-anchor="start">a</text>
<text x="61.3" y="40.3" font-size="11.45" text-anchor="start">Time of day</text>
<text x="61.3" y="54" font-size="11.45" text-anchor="start">Provenance</text>
<text x="61.3" y="67.7" font-size="11.45" text-anchor="start">Fluorescence</text>
</g>
<circle cx="50.8" cy="35.6" r="2.7" fill="#E41A1C"/>
<circle cx="50.8" cy="49.5" r="2.7" fill="#377EB8"/>
<circle cx="50.8" cy="63.2" r="2.5" fill="none" stroke="#000" stroke-width="0.85"/>
<g fill="#E41A1C" fill-opacity="0.68"><circle cx="404.15" cy="177.3" r="2.6"/><circle cx="416.05" cy="240.3" r="2.6"/><circle cx="423.21" cy="237.5" r="2.6"/><circle cx="428.35" cy="184.2" r="2.6"/><circle cx="432.37" cy="170.6" r="2.6"/><circle cx="435.66" cy="204.2" r="2.6"/><circle cx="438.45" cy="215.5" r="2.6"/><circle cx="440.87" cy="224" r="2.6"/><circle cx="443.02" cy="229" r="2.6"/><circle cx="444.93" cy="234.28" r="2.6"/><circle cx="446.67" cy="234.16" r="2.6"/><circle cx="448.26" cy="235.61" r="2.6"/><circle cx="449.72" cy="236.65" r="2.6"/><circle cx="451.07" cy="236.27" r="2.6"/><circle cx="452.33" cy="237.32" r="2.6"/><circle cx="453.51" cy="237.58" r="2.6"/><circle cx="454.62" cy="236.34" r="2.6"/><circle cx="455.66" cy="238.7" r="2.6"/><circle cx="456.65" cy="238.47" r="2.6"/><circle cx="457.59" cy="237.58" r="2.6"/><circle cx="458.48" cy="238" r="2.6"/><circle cx="459.34" cy="238.59" r="2.6"/><circle cx="460.15" cy="237.99" r="2.6"/><circle cx="460.93" cy="238.02" r="2.6"/><circle cx="461.68" cy="237.07" r="2.6"/><circle cx="462.39" cy="238.68" r="2.6"/><circle cx="463.09" cy="238.35" r="2.6"/><circle cx="463.75" cy="238.48" r="2.6"/><circle cx="464.4" cy="237.05" r="2.6"/><circle cx="465.02" cy="239.59" r="2.6"/><circle cx="465.62" cy="238.4" r="2.6"/><circle cx="466.2" cy="237.98" r="2.6"/><circle cx="466.76" cy="239.91" r="2.6"/><circle cx="467.31" cy="238.26" r="2.6"/><circle cx="467.84" cy="237.13" r="2.6"/><circle cx="468.36" cy="237.97" r="2.6"/><circle cx="468.86" cy="236.47" r="2.6"/><circle cx="469.35" cy="239.14" r="2.6"/><circle cx="469.83" cy="237.97" r="2.6"/><circle cx="470.29" cy="237.7" r="2.6"/><circle cx="470.75" cy="239.15" r="2.6"/><circle cx="471.19" cy="236.96" r="2.6"/><circle cx="471.62" cy="238.7" r="2.6"/><circle cx="472.04" cy="236.6" r="2.6"/><circle cx="472.45" cy="237.7" r="2.6"/><circle cx="472.86" cy="237.24" r="2.6"/><circle cx="473.25" cy="239.35" r="2.6"/><circle cx="473.64" cy="239.57" r="2.6"/><circle cx="474.02" cy="237.86" r="2.6"/><circle cx="474.39" cy="238.77" r="2.6"/><circle cx="474.75" cy="237.92" r="2.6"/><circle cx="475.11" cy="238.49" r="2.6"/><circle cx="475.46" cy="237.4" r="2.6"/><circle cx="475.8" cy="236.61" r="2.6"/><circle cx="476.14" cy="236.5" r="2.6"/><circle cx="476.47" cy="238.22" r="2.6"/><circle cx="476.79" cy="239.68" r="2.6"/><circle cx="477.11" cy="238.06" r="2.6"/><circle cx="477.43" cy="237.4" r="2.6"/><circle cx="477.74" cy="239.32" r="2.6"/><circle cx="487.1" cy="232.3" r="2.6"/><circle cx="489.1" cy="230.64" r="2.6"/><circle cx="490.91" cy="229.04" r="2.6"/><circle cx="492.55" cy="227.11" r="2.6"/><circle cx="494.06" cy="225.32" r="2.6"/><circle cx="495.45" cy="222.89" r="2.6"/><circle cx="496.75" cy="222.2" r="2.6"/><circle cx="497.96" cy="219.81" r="2.6"/><circle cx="499.1" cy="218.26" r="2.6"/><circle cx="500.17" cy="215.03" r="2.6"/><circle cx="501.18" cy="212.08" r="2.6"/><circle cx="502.14" cy="211.42" r="2.6"/><circle cx="503.05" cy="210.88" r="2.6"/><circle cx="503.92" cy="208.17" r="2.6"/><circle cx="504.74" cy="206.56" r="2.6"/><circle cx="505.54" cy="205.25" r="2.6"/><circle cx="506.3" cy="204.26" r="2.6"/><circle cx="507.03" cy="203.71" r="2.6"/><circle cx="507.73" cy="202.29" r="2.6"/><circle cx="508.41" cy="203.16" r="2.6"/><circle cx="509.06" cy="201.54" r="2.6"/><circle cx="509.69" cy="201.41" r="2.6"/><circle cx="510.3" cy="201.9" r="2.6"/><circle cx="510.89" cy="201.68" r="2.6"/><circle cx="511.46" cy="200.47" r="2.6"/><circle cx="512.01" cy="200.71" r="2.6"/><circle cx="512.55" cy="201.48" r="2.6"/><circle cx="513.07" cy="203.09" r="2.6"/><circle cx="513.58" cy="204.71" r="2.6"/><circle cx="514.08" cy="207.95" r="2.6"/><circle cx="514.56" cy="208.91" r="2.6"/><circle cx="515.03" cy="209.25" r="2.6"/><circle cx="515.48" cy="208.94" r="2.6"/><circle cx="515.93" cy="209.8" r="2.6"/><circle cx="516.37" cy="209.97" r="2.6"/><circle cx="516.79" cy="210.58" r="2.6"/><circle cx="517.21" cy="212.05" r="2.6"/><circle cx="517.62" cy="212.81" r="2.6"/><circle cx="518.01" cy="213" r="2.6"/><circle cx="518.4" cy="213.72" r="2.6"/><circle cx="518.79" cy="214.64" r="2.6"/><circle cx="519.16" cy="215.13" r="2.6"/><circle cx="519.53" cy="216.02" r="2.6"/><circle cx="519.89" cy="216.72" r="2.6"/><circle cx="520.24" cy="218.28" r="2.6"/><circle cx="520.58" cy="220.9" r="2.6"/><circle cx="520.92" cy="221.28" r="2.6"/><circle cx="521.26" cy="221.66" r="2.6"/><circle cx="521.58" cy="222.55" r="2.6"/><circle cx="521.9" cy="223.18" r="2.6"/><circle cx="522.22" cy="224.74" r="2.6"/><circle cx="522.53" cy="225.51" r="2.6"/><circle cx="522.84" cy="225.14" r="2.6"/><circle cx="523.14" cy="226.98" r="2.6"/><circle cx="523.43" cy="227.01" r="2.6"/><circle cx="523.72" cy="228.85" r="2.6"/><circle cx="524.01" cy="228.7" r="2.6"/><circle cx="524.29" cy="230.23" r="2.6"/><circle cx="524.57" cy="229.5" r="2.6"/><circle cx="524.84" cy="230.14" r="2.6"/><circle cx="525.11" cy="231" r="2.6"/><circle cx="525.38" cy="231.93" r="2.6"/><circle cx="525.64" cy="232.08" r="2.6"/><circle cx="525.9" cy="231.45" r="2.6"/><circle cx="526.16" cy="232.74" r="2.6"/><circle cx="526.41" cy="233.08" r="2.6"/><circle cx="526.65" cy="233.23" r="2.6"/><circle cx="526.9" cy="233.51" r="2.6"/><circle cx="527.14" cy="235.34" r="2.6"/><circle cx="527.38" cy="234.43" r="2.6"/><circle cx="527.61" cy="234.51" r="2.6"/><circle cx="527.85" cy="235.72" r="2.6"/><circle cx="528.08" cy="235.71" r="2.6"/><circle cx="528.3" cy="235.85" r="2.6"/><circle cx="528.53" cy="236.59" r="2.6"/><circle cx="528.75" cy="236.61" r="2.6"/><circle cx="528.97" cy="236.7" r="2.6"/><circle cx="529.18" cy="237.19" r="2.6"/><circle cx="529.39" cy="236.91" r="2.6"/><circle cx="529.61" cy="236.5" r="2.6"/><circle cx="529.81" cy="236.77" r="2.6"/><circle cx="530.02" cy="236.79" r="2.6"/><circle cx="530.22" cy="237.35" r="2.6"/><circle cx="530.43" cy="236.68" r="2.6"/><circle cx="530.63" cy="236.33" r="2.6"/><circle cx="530.82" cy="237.58" r="2.6"/><circle cx="531.02" cy="236.82" r="2.6"/><circle cx="531.21" cy="236.54" r="2.6"/><circle cx="531.4" cy="238.02" r="2.6"/><circle cx="531.59" cy="237.45" r="2.6"/><circle cx="531.78" cy="238.25" r="2.6"/><circle cx="531.96" cy="237.7" r="2.6"/><circle cx="532.15" cy="237.41" r="2.6"/><circle cx="532.33" cy="237.39" r="2.6"/><circle cx="532.51" cy="237.88" r="2.6"/><circle cx="532.69" cy="238.07" r="2.6"/><circle cx="532.86" cy="237.78" r="2.6"/><circle cx="533.04" cy="238.14" r="2.6"/><circle cx="533.21" cy="237.42" r="2.6"/><circle cx="533.38" cy="238.37" r="2.6"/><circle cx="533.55" cy="237.3" r="2.6"/><circle cx="533.72" cy="238.28" r="2.6"/><circle cx="533.89" cy="238.82" r="2.6"/><circle cx="534.05" cy="239.06" r="2.6"/><circle cx="534.22" cy="239.43" r="2.6"/><circle cx="534.38" cy="237.47" r="2.6"/><circle cx="534.54" cy="238.85" r="2.6"/><circle cx="534.7" cy="239.12" r="2.6"/><circle cx="534.86" cy="238.98" r="2.6"/><circle cx="535.02" cy="237.84" r="2.6"/><circle cx="535.17" cy="238.64" r="2.6"/><circle cx="535.33" cy="239.5" r="2.6"/><circle cx="535.48" cy="237.49" r="2.6"/><circle cx="535.63" cy="238.67" r="2.6"/><circle cx="535.64" cy="239.05" r="2.6"/><circle cx="537.15" cy="237.92" r="2.6"/><circle cx="538.55" cy="238.58" r="2.6"/><circle cx="539.85" cy="237.14" r="2.6"/><circle cx="541.06" cy="236.72" r="2.6"/><circle cx="542.2" cy="236.19" r="2.6"/><circle cx="543.27" cy="236.26" r="2.6"/><circle cx="544.28" cy="235.48" r="2.6"/><circle cx="545.24" cy="235.36" r="2.6"/><circle cx="546.16" cy="233.15" r="2.6"/><circle cx="547.02" cy="232.37" r="2.6"/><circle cx="547.85" cy="231.79" r="2.6"/><circle cx="548.65" cy="230.38" r="2.6"/><circle cx="549.41" cy="228.07" r="2.6"/><circle cx="550.14" cy="228.13" r="2.6"/><circle cx="550.84" cy="226.42" r="2.6"/><circle cx="551.52" cy="226" r="2.6"/><circle cx="552.17" cy="225.01" r="2.6"/><circle cx="552.8" cy="224.78" r="2.6"/><circle cx="553.41" cy="223.61" r="2.6"/><circle cx="554" cy="222.17" r="2.6"/><circle cx="554.58" cy="222.26" r="2.6"/><circle cx="555.13" cy="223.44" r="2.6"/><circle cx="555.67" cy="222.91" r="2.6"/><circle cx="556.19" cy="223.95" r="2.6"/><circle cx="556.7" cy="223.74" r="2.6"/><circle cx="557.2" cy="223.5" r="2.6"/><circle cx="557.68" cy="225.01" r="2.6"/><circle cx="558.15" cy="224.29" r="2.6"/><circle cx="558.6" cy="223.94" r="2.6"/><circle cx="559.05" cy="226.78" r="2.6"/><circle cx="559.49" cy="224.76" r="2.6"/><circle cx="559.91" cy="226.67" r="2.6"/><circle cx="560.33" cy="227.25" r="2.6"/><circle cx="560.74" cy="227.18" r="2.6"/><circle cx="561.14" cy="226.5" r="2.6"/><circle cx="561.53" cy="228.53" r="2.6"/><circle cx="561.91" cy="227.46" r="2.6"/><circle cx="562.28" cy="227.93" r="2.6"/><circle cx="562.65" cy="228.91" r="2.6"/><circle cx="563.01" cy="229.98" r="2.6"/><circle cx="563.36" cy="230.07" r="2.6"/><circle cx="563.71" cy="230.76" r="2.6"/><circle cx="564.05" cy="230.39" r="2.6"/><circle cx="564.38" cy="230.93" r="2.6"/><circle cx="564.71" cy="230.73" r="2.6"/><circle cx="565.03" cy="231.59" r="2.6"/><circle cx="565.34" cy="232.5" r="2.6"/><circle cx="565.66" cy="232.33" r="2.6"/><circle cx="565.96" cy="233.14" r="2.6"/><circle cx="566.26" cy="232.85" r="2.6"/><circle cx="566.56" cy="233.17" r="2.6"/><circle cx="566.85" cy="233.86" r="2.6"/><circle cx="567.14" cy="234.03" r="2.6"/><circle cx="567.42" cy="234.79" r="2.6"/><circle cx="567.7" cy="234.82" r="2.6"/><circle cx="567.97" cy="236.03" r="2.6"/><circle cx="568.24" cy="235.12" r="2.6"/><circle cx="568.51" cy="235.37" r="2.6"/><circle cx="568.77" cy="235.14" r="2.6"/><circle cx="569.03" cy="236.03" r="2.6"/><circle cx="569.28" cy="236.67" r="2.6"/><circle cx="569.53" cy="236.06" r="2.6"/><circle cx="569.78" cy="236.72" r="2.6"/><circle cx="570.02" cy="237.42" r="2.6"/><circle cx="570.27" cy="237.16" r="2.6"/><circle cx="570.5" cy="237.17" r="2.6"/><circle cx="570.74" cy="238.31" r="2.6"/><circle cx="570.97" cy="238.03" r="2.6"/><circle cx="571.2" cy="238.46" r="2.6"/><circle cx="571.43" cy="239.17" r="2.6"/><circle cx="571.65" cy="239.4" r="2.6"/><circle cx="571.8" cy="238.66" r="2.6"/><circle cx="573.88" cy="241.03" r="2.6"/><circle cx="575.76" cy="244.28" r="2.6"/></g>
<g fill="#E41A1C" fill-opacity="0.68"><circle cx="570" cy="234.4" r="2.6"/><circle cx="575.6" cy="245.6" r="2.6"/><circle cx="578.4" cy="222.3" r="2.6"/><circle cx="579.3" cy="193.3" r="2.6"/><circle cx="580.5" cy="166.4" r="2.6"/><circle cx="581.2" cy="144.4" r="2.6"/><circle cx="583.4" cy="105.6" r="2.6"/><circle cx="584.9" cy="88.3" r="2.6"/><circle cx="585.3" cy="68.4" r="2.6"/><circle cx="590.8" cy="71.5" r="2.6"/><circle cx="587.7" cy="74.9" r="2.6"/><circle cx="589.5" cy="77.7" r="2.6"/><circle cx="591.4" cy="88.8" r="2.6"/><circle cx="589.5" cy="93.5" r="2.6"/><circle cx="592.3" cy="119.3" r="2.6"/><circle cx="593.3" cy="122.1" r="2.6"/><circle cx="591.4" cy="123" r="2.6"/><circle cx="593.3" cy="129.5" r="2.6"/><circle cx="594.2" cy="142.6" r="2.6"/><circle cx="595.1" cy="145.3" r="2.6"/><circle cx="596" cy="150" r="2.6"/><circle cx="597" cy="154.7" r="2.6"/><circle cx="595.1" cy="152.8" r="2.6"/><circle cx="597.9" cy="167.7" r="2.6"/><circle cx="597.9" cy="184.4" r="2.6"/><circle cx="597.9" cy="207.4" r="2.6"/><circle cx="599.8" cy="221.4" r="2.6"/><circle cx="602.6" cy="235.3" r="2.6"/><circle cx="602" cy="236.5" r="2.6"/><circle cx="603.5" cy="202.8" r="2.6"/><circle cx="598.1" cy="205.4" r="2.6"/><circle cx="600.3" cy="209.9" r="2.6"/><circle cx="604.7" cy="202.1" r="2.6"/><circle cx="606.9" cy="190" r="2.6"/><circle cx="605.6" cy="185.3" r="2.6"/><circle cx="606.5" cy="190" r="2.6"/><circle cx="606.4" cy="175.1" r="2.6"/><circle cx="607.3" cy="153.4" r="2.6"/><circle cx="600" cy="184.4" r="2.6"/><circle cx="611.2" cy="102" r="2.6"/><circle cx="610.2" cy="109.1" r="2.6"/><circle cx="610.2" cy="116.2" r="2.6"/><circle cx="608.2" cy="119.3" r="2.6"/><circle cx="609.2" cy="128.4" r="2.6"/><circle cx="608.2" cy="135.5" r="2.6"/><circle cx="607.2" cy="153.8" r="2.6"/><circle cx="609" cy="120.5" r="2.6"/><circle cx="607.8" cy="127.6" r="2.6"/><circle cx="611.4" cy="107.5" r="2.6"/><circle cx="609.5" cy="141" r="2.6"/><circle cx="613.7" cy="79" r="2.6"/><circle cx="616.1" cy="82.5" r="2.6"/><circle cx="612.5" cy="86.1" r="2.6"/><circle cx="616.1" cy="89.7" r="2.6"/><circle cx="611.4" cy="95.6" r="2.6"/><circle cx="613.7" cy="99.2" r="2.6"/><circle cx="617.3" cy="103.9" r="2.6"/><circle cx="614.3" cy="103" r="2.6"/><circle cx="616.3" cy="109.1" r="2.6"/><circle cx="617.3" cy="112.2" r="2.6"/><circle cx="617.3" cy="115.2" r="2.6"/><circle cx="618.3" cy="120.3" r="2.6"/><circle cx="619.7" cy="125.3" r="2.6"/><circle cx="619.4" cy="124.4" r="2.6"/><circle cx="620.4" cy="130.5" r="2.6"/><circle cx="622.4" cy="135.5" r="2.6"/><circle cx="624.4" cy="140.6" r="2.6"/><circle cx="625.4" cy="146.7" r="2.6"/><circle cx="626.5" cy="152.8" r="2.6"/><circle cx="625.1" cy="151.9" r="2.6"/><circle cx="627.4" cy="154.3" r="2.6"/><circle cx="614.5" cy="93" r="2.6"/><circle cx="612.8" cy="91" r="2.6"/><circle cx="615.5" cy="97" r="2.6"/><circle cx="624.23" cy="141.76" r="2.6"/><circle cx="618.05" cy="114.65" r="2.6"/><circle cx="622.59" cy="126.35" r="2.6"/><circle cx="623.15" cy="146.69" r="2.6"/><circle cx="623.43" cy="130.86" r="2.6"/><circle cx="623.63" cy="147.93" r="2.6"/><circle cx="625.65" cy="145.61" r="2.6"/><circle cx="621.58" cy="115.2" r="2.6"/><circle cx="617.57" cy="122.38" r="2.6"/><circle cx="624.57" cy="149.18" r="2.6"/><circle cx="620.58" cy="118.41" r="2.6"/><circle cx="616.94" cy="114.6" r="2.6"/><circle cx="623.54" cy="134.81" r="2.6"/><circle cx="623.98" cy="146.42" r="2.6"/><circle cx="618.87" cy="128.1" r="2.6"/><circle cx="624.58" cy="129.59" r="2.6"/><circle cx="620.67" cy="124.83" r="2.6"/><circle cx="619.68" cy="126.42" r="2.6"/><circle cx="623.26" cy="138.48" r="2.6"/><circle cx="620.67" cy="128.81" r="2.6"/><circle cx="623.82" cy="144.86" r="2.6"/><circle cx="625.32" cy="135.52" r="2.6"/><circle cx="623.99" cy="143.37" r="2.6"/><circle cx="627.1" cy="150.74" r="2.6"/><circle cx="621.3" cy="123.96" r="2.6"/><circle cx="621.63" cy="126.23" r="2.6"/><circle cx="620.88" cy="133.39" r="2.6"/><circle cx="623.7" cy="146.19" r="2.6"/><circle cx="621.2" cy="128.09" r="2.6"/><circle cx="620.42" cy="114.02" r="2.6"/><circle cx="616.67" cy="114.4" r="2.6"/><circle cx="623.83" cy="153.57" r="2.6"/><circle cx="626.04" cy="147.02" r="2.6"/><circle cx="620.37" cy="117.77" r="2.6"/><circle cx="620.23" cy="122.08" r="2.6"/><circle cx="624.76" cy="142.78" r="2.6"/><circle cx="622.7" cy="139.64" r="2.6"/><circle cx="621.17" cy="120.81" r="2.6"/><circle cx="620.35" cy="136.78" r="2.6"/><circle cx="621.51" cy="118.48" r="2.6"/><circle cx="619.13" cy="120.47" r="2.6"/><circle cx="626.39" cy="131.37" r="2.6"/><circle cx="625.29" cy="142.14" r="2.6"/><circle cx="626.68" cy="145.43" r="2.6"/><circle cx="626.92" cy="149.21" r="2.6"/><circle cx="621.37" cy="125.7" r="2.6"/><circle cx="622.75" cy="122.9" r="2.6"/><circle cx="621.01" cy="119.27" r="2.6"/><circle cx="621.14" cy="114.97" r="2.6"/><circle cx="623.24" cy="136.67" r="2.6"/><circle cx="622.5" cy="135.99" r="2.6"/><circle cx="625.98" cy="139.31" r="2.6"/><circle cx="625.67" cy="145.46" r="2.6"/><circle cx="624.17" cy="127.11" r="2.6"/><circle cx="626.77" cy="148.67" r="2.6"/><circle cx="614.81" cy="93.7" r="2.6"/><circle cx="615.92" cy="83.89" r="2.6"/><circle cx="615.78" cy="86.59" r="2.6"/><circle cx="615.82" cy="92.96" r="2.6"/><circle cx="615.84" cy="101.05" r="2.6"/><circle cx="613.53" cy="91.65" r="2.6"/><circle cx="615.93" cy="91.54" r="2.6"/><circle cx="613.99" cy="100.19" r="2.6"/><circle cx="607" cy="177" r="2.6"/><circle cx="607" cy="183" r="2.6"/><circle cx="605.7" cy="188.6" r="2.6"/><circle cx="598.9" cy="203.5" r="2.6"/><circle cx="600.2" cy="208.9" r="2.6"/><circle cx="601.6" cy="215.7" r="2.6"/><circle cx="600.2" cy="221.1" r="2.6"/><circle cx="603" cy="233.3" r="2.6"/><circle cx="601.6" cy="236" r="2.6"/><circle cx="598.9" cy="184.5" r="2.6"/><circle cx="578.6" cy="194" r="2.6"/><circle cx="577.2" cy="221.1" r="2.6"/><circle cx="574.5" cy="245.5" r="2.6"/></g>
<g fill="#377EB8" fill-opacity="0.66"><circle cx="404.15" cy="234.5" r="2.6"/><circle cx="416.05" cy="224.6" r="2.6"/><circle cx="423.21" cy="234.8" r="2.6"/><circle cx="428.35" cy="244.8" r="2.6"/><circle cx="432.37" cy="209.5" r="2.6"/><circle cx="435.66" cy="184.2" r="2.6"/><circle cx="438.45" cy="210.5" r="2.6"/><circle cx="440.87" cy="214.5" r="2.6"/><circle cx="443.02" cy="217.5" r="2.6"/><circle cx="444.93" cy="219.72" r="2.6"/><circle cx="446.67" cy="215.94" r="2.6"/><circle cx="448.26" cy="222.45" r="2.6"/><circle cx="449.72" cy="219.59" r="2.6"/><circle cx="451.07" cy="220.66" r="2.6"/><circle cx="452.33" cy="215.91" r="2.6"/><circle cx="453.51" cy="220.46" r="2.6"/><circle cx="454.62" cy="216" r="2.6"/><circle cx="455.66" cy="216.47" r="2.6"/><circle cx="456.65" cy="213.14" r="2.6"/><circle cx="457.59" cy="215.07" r="2.6"/><circle cx="458.48" cy="214.23" r="2.6"/><circle cx="459.34" cy="213.62" r="2.6"/><circle cx="460.15" cy="214.23" r="2.6"/><circle cx="460.93" cy="212.75" r="2.6"/><circle cx="461.68" cy="214.01" r="2.6"/><circle cx="462.39" cy="210.33" r="2.6"/><circle cx="463.09" cy="208.55" r="2.6"/><circle cx="463.75" cy="209.92" r="2.6"/><circle cx="464.4" cy="210.56" r="2.6"/><circle cx="465.02" cy="211.09" r="2.6"/><circle cx="465.62" cy="209.32" r="2.6"/><circle cx="466.2" cy="202.94" r="2.6"/><circle cx="466.76" cy="206.43" r="2.6"/><circle cx="467.31" cy="207.73" r="2.6"/><circle cx="467.84" cy="203.88" r="2.6"/><circle cx="468.36" cy="201.85" r="2.6"/><circle cx="468.86" cy="202.8" r="2.6"/><circle cx="469.35" cy="200.35" r="2.6"/><circle cx="469.83" cy="202.03" r="2.6"/><circle cx="470.29" cy="199.97" r="2.6"/><circle cx="470.75" cy="202.25" r="2.6"/><circle cx="471.19" cy="199.73" r="2.6"/><circle cx="471.62" cy="196.53" r="2.6"/><circle cx="472.04" cy="198.71" r="2.6"/><circle cx="472.45" cy="198.81" r="2.6"/><circle cx="472.86" cy="195.08" r="2.6"/><circle cx="473.25" cy="194.82" r="2.6"/><circle cx="473.64" cy="190.34" r="2.6"/><circle cx="474.02" cy="196.55" r="2.6"/><circle cx="474.39" cy="192.92" r="2.6"/><circle cx="474.75" cy="189.21" r="2.6"/><circle cx="475.11" cy="189.47" r="2.6"/><circle cx="475.46" cy="192.26" r="2.6"/><circle cx="475.8" cy="193.88" r="2.6"/><circle cx="476.14" cy="191.66" r="2.6"/><circle cx="476.47" cy="192.41" r="2.6"/><circle cx="476.79" cy="188.69" r="2.6"/><circle cx="477.11" cy="187.79" r="2.6"/><circle cx="477.43" cy="192.07" r="2.6"/><circle cx="477.74" cy="190.87" r="2.6"/><circle cx="487.1" cy="198.72" r="2.6"/><circle cx="489.1" cy="201.68" r="2.6"/><circle cx="490.91" cy="202.75" r="2.6"/><circle cx="492.55" cy="205.84" r="2.6"/><circle cx="494.06" cy="209.56" r="2.6"/><circle cx="495.45" cy="212.31" r="2.6"/><circle cx="496.75" cy="213.15" r="2.6"/><circle cx="497.96" cy="215.9" r="2.6"/><circle cx="499.1" cy="216.16" r="2.6"/><circle cx="500.17" cy="218.26" r="2.6"/><circle cx="501.18" cy="219.36" r="2.6"/><circle cx="502.14" cy="219.71" r="2.6"/><circle cx="503.05" cy="221.89" r="2.6"/><circle cx="503.92" cy="223.28" r="2.6"/><circle cx="504.74" cy="223.52" r="2.6"/><circle cx="505.54" cy="224.33" r="2.6"/><circle cx="506.3" cy="225.84" r="2.6"/><circle cx="507.03" cy="224.78" r="2.6"/><circle cx="507.73" cy="225.13" r="2.6"/><circle cx="508.41" cy="226.1" r="2.6"/><circle cx="509.06" cy="226.21" r="2.6"/><circle cx="509.69" cy="228.1" r="2.6"/><circle cx="510.3" cy="227.78" r="2.6"/><circle cx="510.89" cy="227.3" r="2.6"/><circle cx="511.46" cy="227.59" r="2.6"/><circle cx="512.01" cy="229.72" r="2.6"/><circle cx="512.55" cy="227.59" r="2.6"/><circle cx="513.07" cy="227.38" r="2.6"/><circle cx="513.58" cy="227.85" r="2.6"/><circle cx="514.08" cy="227.85" r="2.6"/><circle cx="514.56" cy="227.37" r="2.6"/><circle cx="515.03" cy="226.46" r="2.6"/><circle cx="515.48" cy="226.07" r="2.6"/><circle cx="515.93" cy="226.89" r="2.6"/><circle cx="516.37" cy="226.26" r="2.6"/><circle cx="516.79" cy="225.04" r="2.6"/><circle cx="517.21" cy="226.42" r="2.6"/><circle cx="517.62" cy="225.86" r="2.6"/><circle cx="518.01" cy="224.91" r="2.6"/><circle cx="518.4" cy="224.55" r="2.6"/><circle cx="518.79" cy="224.51" r="2.6"/><circle cx="519.16" cy="223.62" r="2.6"/><circle cx="519.53" cy="222.89" r="2.6"/><circle cx="519.89" cy="223.59" r="2.6"/><circle cx="520.24" cy="222.24" r="2.6"/><circle cx="520.58" cy="223.06" r="2.6"/><circle cx="520.92" cy="221.72" r="2.6"/><circle cx="521.26" cy="222.29" r="2.6"/><circle cx="521.58" cy="222.04" r="2.6"/><circle cx="521.9" cy="222.97" r="2.6"/><circle cx="522.22" cy="221.04" r="2.6"/><circle cx="522.53" cy="220.62" r="2.6"/><circle cx="522.84" cy="220.87" r="2.6"/><circle cx="523.14" cy="220.38" r="2.6"/><circle cx="523.43" cy="220.5" r="2.6"/><circle cx="523.72" cy="220.91" r="2.6"/><circle cx="524.01" cy="220.94" r="2.6"/><circle cx="524.29" cy="221.29" r="2.6"/><circle cx="524.57" cy="219.68" r="2.6"/><circle cx="524.84" cy="221.53" r="2.6"/><circle cx="525.11" cy="220.98" r="2.6"/><circle cx="525.38" cy="219.51" r="2.6"/><circle cx="525.64" cy="218.1" r="2.6"/><circle cx="525.9" cy="219.28" r="2.6"/><circle cx="526.16" cy="219.24" r="2.6"/><circle cx="526.41" cy="217.68" r="2.6"/><circle cx="526.65" cy="218.98" r="2.6"/><circle cx="526.9" cy="218.7" r="2.6"/><circle cx="527.14" cy="218.23" r="2.6"/><circle cx="527.38" cy="218.97" r="2.6"/><circle cx="527.61" cy="219.1" r="2.6"/><circle cx="527.85" cy="218.1" r="2.6"/><circle cx="528.08" cy="218.44" r="2.6"/><circle cx="528.3" cy="217.82" r="2.6"/><circle cx="528.53" cy="217.65" r="2.6"/><circle cx="528.75" cy="218.08" r="2.6"/><circle cx="528.97" cy="218.27" r="2.6"/><circle cx="529.18" cy="217.53" r="2.6"/><circle cx="529.39" cy="216.46" r="2.6"/><circle cx="529.61" cy="218.07" r="2.6"/><circle cx="529.81" cy="216.68" r="2.6"/><circle cx="530.02" cy="217.64" r="2.6"/><circle cx="530.22" cy="218.57" r="2.6"/><circle cx="530.43" cy="217.42" r="2.6"/><circle cx="530.63" cy="216.65" r="2.6"/><circle cx="530.82" cy="216.42" r="2.6"/><circle cx="531.02" cy="217.94" r="2.6"/><circle cx="531.21" cy="217.17" r="2.6"/><circle cx="531.4" cy="217.44" r="2.6"/><circle cx="531.59" cy="217.61" r="2.6"/><circle cx="531.78" cy="216.97" r="2.6"/><circle cx="531.96" cy="216.76" r="2.6"/><circle cx="532.15" cy="216.32" r="2.6"/><circle cx="532.33" cy="214.99" r="2.6"/><circle cx="532.51" cy="215.88" r="2.6"/><circle cx="532.69" cy="216.7" r="2.6"/><circle cx="532.86" cy="216.59" r="2.6"/><circle cx="533.04" cy="216.89" r="2.6"/><circle cx="533.21" cy="216.52" r="2.6"/><circle cx="533.38" cy="216.65" r="2.6"/><circle cx="533.55" cy="216.98" r="2.6"/><circle cx="533.72" cy="215.94" r="2.6"/><circle cx="533.89" cy="216.25" r="2.6"/><circle cx="534.05" cy="215.42" r="2.6"/><circle cx="534.22" cy="216.93" r="2.6"/><circle cx="534.38" cy="216.33" r="2.6"/><circle cx="534.54" cy="216.56" r="2.6"/><circle cx="534.7" cy="217.16" r="2.6"/><circle cx="534.86" cy="216.84" r="2.6"/><circle cx="535.02" cy="216.13" r="2.6"/><circle cx="535.17" cy="216.61" r="2.6"/><circle cx="535.33" cy="215.24" r="2.6"/><circle cx="535.48" cy="216.34" r="2.6"/><circle cx="535.63" cy="216.13" r="2.6"/><circle cx="535.64" cy="215.08" r="2.6"/><circle cx="537.15" cy="216.59" r="2.6"/><circle cx="538.55" cy="215.07" r="2.6"/><circle cx="539.85" cy="215.38" r="2.6"/><circle cx="541.06" cy="214.29" r="2.6"/><circle cx="542.2" cy="218.17" r="2.6"/><circle cx="543.27" cy="221.56" r="2.6"/><circle cx="544.28" cy="223.28" r="2.6"/><circle cx="545.24" cy="226.75" r="2.6"/><circle cx="546.16" cy="231.02" r="2.6"/><circle cx="547.02" cy="233.81" r="2.6"/><circle cx="547.85" cy="234.75" r="2.6"/><circle cx="548.65" cy="235.95" r="2.6"/><circle cx="549.41" cy="237.75" r="2.6"/><circle cx="550.14" cy="236.85" r="2.6"/><circle cx="550.84" cy="239.05" r="2.6"/><circle cx="551.52" cy="239.4" r="2.6"/><circle cx="552.17" cy="241.02" r="2.6"/><circle cx="552.8" cy="240.81" r="2.6"/><circle cx="553.41" cy="240.85" r="2.6"/><circle cx="554" cy="241.55" r="2.6"/><circle cx="554.58" cy="241.11" r="2.6"/><circle cx="555.13" cy="242.18" r="2.6"/><circle cx="555.67" cy="241.95" r="2.6"/><circle cx="556.19" cy="242.29" r="2.6"/><circle cx="556.7" cy="242.22" r="2.6"/><circle cx="557.2" cy="243.3" r="2.6"/><circle cx="557.68" cy="242.78" r="2.6"/><circle cx="558.15" cy="243.23" r="2.6"/><circle cx="558.6" cy="243.25" r="2.6"/><circle cx="559.05" cy="242.51" r="2.6"/><circle cx="559.49" cy="243.34" r="2.6"/><circle cx="559.91" cy="243.21" r="2.6"/><circle cx="560.33" cy="243.18" r="2.6"/><circle cx="560.74" cy="242.73" r="2.6"/><circle cx="561.14" cy="242.7" r="2.6"/><circle cx="561.53" cy="243.41" r="2.6"/><circle cx="561.91" cy="244.23" r="2.6"/><circle cx="562.28" cy="242.4" r="2.6"/><circle cx="562.65" cy="243.2" r="2.6"/><circle cx="563.01" cy="242.64" r="2.6"/><circle cx="563.36" cy="243.31" r="2.6"/><circle cx="563.71" cy="243.09" r="2.6"/><circle cx="564.05" cy="243.45" r="2.6"/><circle cx="564.38" cy="241.13" r="2.6"/><circle cx="564.71" cy="242.44" r="2.6"/><circle cx="565.03" cy="242.21" r="2.6"/><circle cx="565.34" cy="242.74" r="2.6"/><circle cx="565.66" cy="242.37" r="2.6"/><circle cx="565.96" cy="242.42" r="2.6"/><circle cx="566.26" cy="243.21" r="2.6"/><circle cx="566.56" cy="243.94" r="2.6"/><circle cx="566.85" cy="241.11" r="2.6"/><circle cx="567.14" cy="242.61" r="2.6"/><circle cx="567.42" cy="242.99" r="2.6"/><circle cx="567.7" cy="242.8" r="2.6"/><circle cx="567.97" cy="242.59" r="2.6"/><circle cx="568.24" cy="241.99" r="2.6"/><circle cx="568.51" cy="242.23" r="2.6"/><circle cx="568.77" cy="243.23" r="2.6"/><circle cx="569.03" cy="243.45" r="2.6"/><circle cx="569.28" cy="242.86" r="2.6"/><circle cx="569.53" cy="242.3" r="2.6"/><circle cx="569.78" cy="242.86" r="2.6"/><circle cx="570.02" cy="242.66" r="2.6"/><circle cx="570.27" cy="243.13" r="2.6"/><circle cx="570.5" cy="242.86" r="2.6"/><circle cx="570.74" cy="242.41" r="2.6"/><circle cx="570.97" cy="242.89" r="2.6"/><circle cx="571.2" cy="242.05" r="2.6"/><circle cx="571.43" cy="243.23" r="2.6"/><circle cx="571.65" cy="243.43" r="2.6"/><circle cx="571.8" cy="242" r="2.6"/><circle cx="573.88" cy="242.64" r="2.6"/><circle cx="575.76" cy="240.8" r="2.6"/><circle cx="577.46" cy="238.97" r="2.6"/><circle cx="579.01" cy="234.89" r="2.6"/><circle cx="580.44" cy="228.24" r="2.6"/><circle cx="581.77" cy="226.18" r="2.6"/><circle cx="583.02" cy="223" r="2.6"/><circle cx="584.18" cy="220.41" r="2.6"/><circle cx="585.27" cy="218.06" r="2.6"/></g>
<g fill="#377EB8" fill-opacity="0.66"><circle cx="570" cy="244.7" r="2.6"/><circle cx="572.8" cy="243.7" r="2.6"/><circle cx="575.6" cy="239.1" r="2.6"/><circle cx="578.4" cy="234.4" r="2.6"/><circle cx="580.2" cy="227.9" r="2.6"/><circle cx="582.1" cy="224.2" r="2.6"/><circle cx="585.8" cy="217.7" r="2.6"/><circle cx="585.8" cy="207.4" r="2.6"/><circle cx="593.7" cy="209.9" r="2.6"/><circle cx="595.1" cy="205.6" r="2.6"/><circle cx="594.8" cy="199.9" r="2.6"/><circle cx="599.8" cy="204.7" r="2.6"/><circle cx="596" cy="229.8" r="2.6"/><circle cx="597.9" cy="236.3" r="2.6"/><circle cx="598.8" cy="240" r="2.6"/><circle cx="600.7" cy="242.8" r="2.6"/><circle cx="603.5" cy="223.3" r="2.6"/><circle cx="604.4" cy="218.6" r="2.6"/><circle cx="602.6" cy="214.9" r="2.6"/><circle cx="605.3" cy="211.2" r="2.6"/><circle cx="602.6" cy="229.8" r="2.6"/><circle cx="601.4" cy="212.1" r="2.6"/><circle cx="600.3" cy="228.6" r="2.6"/><circle cx="597" cy="236.3" r="2.6"/><circle cx="588.6" cy="175.4" r="2.6"/><circle cx="591.2" cy="175.4" r="2.6"/><circle cx="592.9" cy="183" r="2.6"/><circle cx="587.8" cy="186.4" r="2.6"/><circle cx="591.2" cy="188.1" r="2.6"/><circle cx="594.6" cy="190.7" r="2.6"/><circle cx="588.6" cy="193.2" r="2.6"/><circle cx="595.4" cy="194.9" r="2.6"/><circle cx="587" cy="197.5" r="2.6"/><circle cx="586.7" cy="199.3" r="2.6"/><circle cx="592.3" cy="152.5" r="2.6"/><circle cx="592.3" cy="154.7" r="2.6"/><circle cx="607.4" cy="175.1" r="2.6"/><circle cx="606.5" cy="179.8" r="2.6"/><circle cx="608.4" cy="183.5" r="2.6"/><circle cx="605.6" cy="187.2" r="2.6"/><circle cx="607.4" cy="191.9" r="2.6"/><circle cx="610.2" cy="195.6" r="2.6"/><circle cx="608.4" cy="200.2" r="2.6"/><circle cx="613" cy="204" r="2.6"/><circle cx="608.1" cy="179.7" r="2.6"/><circle cx="607.3" cy="183" r="2.6"/><circle cx="606.4" cy="190.7" r="2.6"/><circle cx="609" cy="193.2" r="2.6"/><circle cx="608.1" cy="196.6" r="2.6"/><circle cx="619.37" cy="223.73" r="2.6"/><circle cx="625.26" cy="231.53" r="2.6"/><circle cx="614.29" cy="213.52" r="2.6"/><circle cx="609.68" cy="199.94" r="2.6"/><circle cx="610.32" cy="198.03" r="2.6"/><circle cx="619.71" cy="227.71" r="2.6"/><circle cx="610.95" cy="197.6" r="2.6"/><circle cx="625.94" cy="234.65" r="2.6"/><circle cx="608.66" cy="202.46" r="2.6"/><circle cx="614.38" cy="211.4" r="2.6"/><circle cx="624.5" cy="230.24" r="2.6"/><circle cx="614.28" cy="205.62" r="2.6"/><circle cx="616.42" cy="214.34" r="2.6"/><circle cx="615.63" cy="208.39" r="2.6"/><circle cx="613.07" cy="205.31" r="2.6"/><circle cx="619.16" cy="212.25" r="2.6"/><circle cx="612.25" cy="198.8" r="2.6"/><circle cx="611.84" cy="205.07" r="2.6"/><circle cx="625.97" cy="227.62" r="2.6"/><circle cx="614.84" cy="207.55" r="2.6"/><circle cx="621.36" cy="225.92" r="2.6"/><circle cx="622" cy="221.16" r="2.6"/><circle cx="611.52" cy="201.95" r="2.6"/><circle cx="611.72" cy="207.31" r="2.6"/><circle cx="617.79" cy="217.87" r="2.6"/><circle cx="613.88" cy="203.68" r="2.6"/><circle cx="622.74" cy="229.17" r="2.6"/><circle cx="619.67" cy="229.25" r="2.6"/><circle cx="621.33" cy="227.96" r="2.6"/><circle cx="612" cy="206.95" r="2.6"/><circle cx="616.96" cy="213.49" r="2.6"/><circle cx="609.2" cy="200.65" r="2.6"/><circle cx="620.75" cy="221.27" r="2.6"/><circle cx="624.64" cy="228.7" r="2.6"/><circle cx="617.29" cy="218.01" r="2.6"/><circle cx="621.25" cy="220.79" r="2.6"/><circle cx="620.47" cy="224.61" r="2.6"/><circle cx="619.93" cy="228.11" r="2.6"/><circle cx="622.2" cy="234.49" r="2.6"/><circle cx="615.89" cy="216.48" r="2.6"/><circle cx="619.62" cy="224.51" r="2.6"/><circle cx="607.44" cy="202.2" r="2.6"/><circle cx="617.49" cy="213.49" r="2.6"/><circle cx="610.74" cy="205.03" r="2.6"/><circle cx="612.83" cy="203.32" r="2.6"/><circle cx="610.31" cy="206.77" r="2.6"/><circle cx="618.07" cy="226.28" r="2.6"/><circle cx="617.91" cy="223.35" r="2.6"/><circle cx="619.31" cy="213.4" r="2.6"/><circle cx="612.48" cy="201.75" r="2.6"/><circle cx="610.24" cy="204.99" r="2.6"/><circle cx="611.79" cy="199.12" r="2.6"/><circle cx="615.06" cy="214" r="2.6"/><circle cx="623.85" cy="230.74" r="2.6"/><circle cx="614.71" cy="204.42" r="2.6"/><circle cx="614.74" cy="207.5" r="2.6"/><circle cx="626.56" cy="237.17" r="2.6"/><circle cx="616.97" cy="218.03" r="2.6"/><circle cx="626.12" cy="236.97" r="2.6"/><circle cx="616.01" cy="222.59" r="2.6"/><circle cx="621.9" cy="228.71" r="2.6"/><circle cx="611.62" cy="200.98" r="2.6"/><circle cx="612.4" cy="207.39" r="2.6"/><circle cx="622.55" cy="232.79" r="2.6"/><circle cx="621.9" cy="228.08" r="2.6"/><circle cx="617.36" cy="217.31" r="2.6"/><circle cx="616.68" cy="221.07" r="2.6"/><circle cx="620.62" cy="220.68" r="2.6"/><circle cx="611.13" cy="202.49" r="2.6"/><circle cx="624.3" cy="228.44" r="2.6"/><circle cx="623.26" cy="227.28" r="2.6"/><circle cx="607.92" cy="201.53" r="2.6"/><circle cx="617.6" cy="218.39" r="2.6"/><circle cx="626" cy="235.27" r="2.6"/><circle cx="623.27" cy="232.88" r="2.6"/><circle cx="616.3" cy="220.51" r="2.6"/><circle cx="611.51" cy="198.42" r="2.6"/><circle cx="619.58" cy="227.55" r="2.6"/><circle cx="624.5" cy="230.24" r="2.6"/><circle cx="606.67" cy="202.4" r="2.6"/><circle cx="619.82" cy="221.34" r="2.6"/><circle cx="620.62" cy="224.22" r="2.6"/><circle cx="622.64" cy="227.22" r="2.6"/><circle cx="619.08" cy="217.9" r="2.6"/><circle cx="619.36" cy="214.07" r="2.6"/><circle cx="624.33" cy="231.29" r="2.6"/><circle cx="616.41" cy="218.88" r="2.6"/><circle cx="626.08" cy="237.26" r="2.6"/><circle cx="614.63" cy="209.86" r="2.6"/><circle cx="618.65" cy="220.11" r="2.6"/><circle cx="610.27" cy="203.33" r="2.6"/><circle cx="620.76" cy="227.91" r="2.6"/><circle cx="619.16" cy="223.99" r="2.6"/><circle cx="610.61" cy="196.85" r="2.6"/><circle cx="625.48" cy="234.17" r="2.6"/><circle cx="615" cy="211.27" r="2.6"/><circle cx="613.02" cy="207.41" r="2.6"/><circle cx="619.54" cy="226.55" r="2.6"/><circle cx="618.88" cy="227" r="2.6"/><circle cx="625.09" cy="235.29" r="2.6"/><circle cx="611.03" cy="199.57" r="2.6"/><circle cx="613.89" cy="208.85" r="2.6"/><circle cx="614.91" cy="206.14" r="2.6"/><circle cx="618.84" cy="224.23" r="2.6"/><circle cx="606.94" cy="196.72" r="2.6"/><circle cx="611.23" cy="200.32" r="2.6"/><circle cx="620.71" cy="219.29" r="2.6"/><circle cx="612.85" cy="204.72" r="2.6"/><circle cx="611.07" cy="200.57" r="2.6"/><circle cx="624.34" cy="229.54" r="2.6"/><circle cx="626.24" cy="231.75" r="2.6"/><circle cx="612.9" cy="206.95" r="2.6"/><circle cx="623.62" cy="233.46" r="2.6"/><circle cx="621.99" cy="224.38" r="2.6"/><circle cx="622.66" cy="225.47" r="2.6"/><circle cx="615.23" cy="212.25" r="2.6"/><circle cx="616.15" cy="206.68" r="2.6"/><circle cx="622.62" cy="229.11" r="2.6"/><circle cx="621.28" cy="220.49" r="2.6"/><circle cx="614" cy="207.33" r="2.6"/><circle cx="625.08" cy="232.68" r="2.6"/><circle cx="617.73" cy="219.41" r="2.6"/><circle cx="621.37" cy="224.15" r="2.6"/><circle cx="611.52" cy="201.22" r="2.6"/><circle cx="622.19" cy="227.17" r="2.6"/><circle cx="623.03" cy="230.56" r="2.6"/><circle cx="612.01" cy="201.06" r="2.6"/><circle cx="617.11" cy="213.41" r="2.6"/><circle cx="620.15" cy="219.18" r="2.6"/><circle cx="614.05" cy="211.62" r="2.6"/><circle cx="615.86" cy="209.85" r="2.6"/><circle cx="617.63" cy="217.54" r="2.6"/><circle cx="626.92" cy="236.47" r="2.6"/><circle cx="610.95" cy="203.78" r="2.6"/><circle cx="623.37" cy="226.5" r="2.6"/><circle cx="610.37" cy="198.68" r="2.6"/><circle cx="618.19" cy="220.44" r="2.6"/><circle cx="620.33" cy="226.94" r="2.6"/><circle cx="625.09" cy="237.31" r="2.6"/><circle cx="613.16" cy="202.95" r="2.6"/><circle cx="615.22" cy="205.1" r="2.6"/><circle cx="618.6" cy="223.95" r="2.6"/><circle cx="615.76" cy="211.05" r="2.6"/><circle cx="627.56" cy="234.21" r="2.6"/><circle cx="610.33" cy="199.2" r="2.6"/><circle cx="616.93" cy="220.23" r="2.6"/><circle cx="627.36" cy="231.67" r="2.6"/><circle cx="609.42" cy="203.58" r="2.6"/><circle cx="621.34" cy="226.58" r="2.6"/><circle cx="624.03" cy="232" r="2.6"/><circle cx="606.75" cy="196.78" r="2.6"/><circle cx="608.03" cy="202.59" r="2.6"/><circle cx="610.92" cy="207.36" r="2.6"/><circle cx="626.26" cy="235.89" r="2.6"/><circle cx="614.11" cy="204.7" r="2.6"/><circle cx="605.35" cy="197.97" r="2.6"/><circle cx="610.99" cy="203.26" r="2.6"/><circle cx="614.97" cy="208.44" r="2.6"/><circle cx="614.44" cy="203.52" r="2.6"/><circle cx="616.21" cy="215.95" r="2.6"/><circle cx="620.65" cy="227.45" r="2.6"/><circle cx="617.73" cy="218.06" r="2.6"/><circle cx="612.92" cy="211.52" r="2.6"/><circle cx="612.22" cy="210.63" r="2.6"/><circle cx="612.71" cy="208.06" r="2.6"/><circle cx="614.1" cy="205.24" r="2.6"/><circle cx="617.64" cy="213.88" r="2.6"/><circle cx="624.17" cy="230.62" r="2.6"/><circle cx="618.59" cy="220.51" r="2.6"/><circle cx="609.85" cy="197.68" r="2.6"/><circle cx="609.29" cy="188.17" r="2.6"/><circle cx="605.77" cy="177.47" r="2.6"/><circle cx="608.43" cy="193.17" r="2.6"/><circle cx="605.82" cy="186.66" r="2.6"/><circle cx="608.74" cy="194.72" r="2.6"/><circle cx="607.85" cy="184.6" r="2.6"/><circle cx="609.24" cy="192.24" r="2.6"/><circle cx="608.98" cy="193.27" r="2.6"/><circle cx="608.55" cy="191.61" r="2.6"/><circle cx="607.69" cy="191.47" r="2.6"/><circle cx="608.36" cy="191.49" r="2.6"/><circle cx="607.82" cy="176.18" r="2.6"/><circle cx="609.02" cy="190.54" r="2.6"/><circle cx="606.48" cy="176.98" r="2.6"/><circle cx="597.5" cy="229.2" r="2.6"/><circle cx="598.9" cy="233.3" r="2.6"/><circle cx="600.2" cy="240" r="2.6"/><circle cx="597.5" cy="241.4" r="2.6"/><circle cx="601.6" cy="242.8" r="2.6"/><circle cx="594.8" cy="227.9" r="2.6"/><circle cx="596.2" cy="221.1" r="2.6"/><circle cx="600.2" cy="204.8" r="2.6"/><circle cx="598.9" cy="208.9" r="2.6"/><circle cx="605.7" cy="200.8" r="2.6"/><circle cx="605.7" cy="213" r="2.6"/><circle cx="604.3" cy="218.4" r="2.6"/><circle cx="603" cy="230.6" r="2.6"/><circle cx="599.5" cy="245" r="2.6"/><circle cx="602" cy="238" r="2.6"/></g>
<path d="M478.7 179.2L484.33 188.95L473.07 188.95Z" fill="#377EB8"/>
<path d="M512.2 195.2L517.83 204.95L506.57 204.95Z" fill="#E41A1C"/>
<path d="M539 200.2L544.63 209.95L533.37 209.95Z" fill="#377EB8"/>
<path d="M555 217.2L560.63 226.95L549.37 226.95Z" fill="#E41A1C"/>
<path d="M588.8 54.8L594.43 64.55L583.17 64.55Z" fill="#E41A1C"/>
<path d="M613.8 65.5L619.43 75.25L608.17 75.25Z" fill="#E41A1C"/>
<path d="M588.8 144.6L594.43 154.35L583.17 154.35Z" fill="#377EB8"/>
<path d="M607.2 163.8L612.83 173.55L601.57 173.55Z" fill="#377EB8"/>
<g fill="none" stroke="#000" stroke-width="0.65"><circle cx="416.05" cy="244.49" r="2.65"/><circle cx="423.21" cy="242.05" r="2.65"/><circle cx="428.35" cy="240.64" r="2.65"/><circle cx="432.37" cy="238.75" r="2.65"/><circle cx="435.66" cy="237.12" r="2.65"/><circle cx="438.45" cy="235.32" r="2.65"/><circle cx="440.87" cy="233.09" r="2.65"/><circle cx="443.02" cy="230.74" r="2.65"/><circle cx="444.93" cy="228.41" r="2.65"/><circle cx="446.67" cy="226" r="2.65"/><circle cx="448.26" cy="223.67" r="2.65"/><circle cx="449.72" cy="221.41" r="2.65"/><circle cx="451.07" cy="219.18" r="2.65"/><circle cx="452.33" cy="216.99" r="2.65"/><circle cx="453.51" cy="214.78" r="2.65"/><circle cx="454.62" cy="212.54" r="2.65"/><circle cx="455.66" cy="210.39" r="2.65"/><circle cx="456.65" cy="208.4" r="2.65"/><circle cx="457.59" cy="206.66" r="2.65"/><circle cx="458.48" cy="205.07" r="2.65"/><circle cx="459.34" cy="203.44" r="2.65"/><circle cx="460.15" cy="201.63" r="2.65"/><circle cx="460.93" cy="199.37" r="2.65"/><circle cx="461.68" cy="196.77" r="2.65"/><circle cx="462.39" cy="194.27" r="2.65"/><circle cx="463.09" cy="192.17" r="2.65"/><circle cx="463.75" cy="190.33" r="2.65"/><circle cx="464.4" cy="188.63" r="2.65"/><circle cx="465.02" cy="187.04" r="2.65"/><circle cx="465.62" cy="185.52" r="2.65"/><circle cx="466.2" cy="184.05" r="2.65"/><circle cx="466.76" cy="182.59" r="2.65"/><circle cx="467.31" cy="181.16" r="2.65"/><circle cx="467.84" cy="179.77" r="2.65"/><circle cx="468.36" cy="178.42" r="2.65"/><circle cx="468.86" cy="177.11" r="2.65"/><circle cx="469.35" cy="175.83" r="2.65"/><circle cx="469.83" cy="174.58" r="2.65"/><circle cx="470.29" cy="173.36" r="2.65"/><circle cx="470.75" cy="172.17" r="2.65"/><circle cx="471.19" cy="171" r="2.65"/><circle cx="471.62" cy="169.85" r="2.65"/><circle cx="472.04" cy="168.72" r="2.65"/><circle cx="472.45" cy="167.62" r="2.65"/><circle cx="472.86" cy="166.53" r="2.65"/><circle cx="473.25" cy="165.47" r="2.65"/><circle cx="473.64" cy="164.43" r="2.65"/><circle cx="474.02" cy="163.42" r="2.65"/><circle cx="474.39" cy="162.43" r="2.65"/><circle cx="474.75" cy="161.46" r="2.65"/><circle cx="475.11" cy="160.51" r="2.65"/><circle cx="475.46" cy="159.59" r="2.65"/><circle cx="475.8" cy="158.69" r="2.65"/><circle cx="476.14" cy="157.81" r="2.65"/><circle cx="476.47" cy="156.94" r="2.65"/><circle cx="476.79" cy="156.1" r="2.65"/><circle cx="477.11" cy="155.27" r="2.65"/><circle cx="477.43" cy="154.45" r="2.65"/><circle cx="477.74" cy="153.65" r="2.65"/></g>
<g fill="none" stroke="#000" stroke-width="0.8"><circle cx="487.1" cy="132.56" r="2.75"/><circle cx="489.1" cy="129.09" r="2.75"/><circle cx="490.91" cy="126.24" r="2.75"/><circle cx="492.55" cy="123.94" r="2.75"/><circle cx="494.06" cy="122.08" r="2.75"/><circle cx="495.45" cy="120.49" r="2.75"/><circle cx="496.75" cy="119.11" r="2.75"/><circle cx="497.96" cy="117.91" r="2.75"/><circle cx="499.1" cy="116.9" r="2.75"/><circle cx="500.17" cy="116.04" r="2.75"/><circle cx="501.18" cy="115.34" r="2.75"/><circle cx="502.14" cy="114.76" r="2.75"/><circle cx="503.05" cy="114.25" r="2.75"/><circle cx="503.92" cy="113.81" r="2.75"/><circle cx="504.74" cy="113.45" r="2.75"/><circle cx="505.54" cy="113.15" r="2.75"/><circle cx="506.3" cy="112.91" r="2.75"/><circle cx="507.03" cy="112.74" r="2.75"/><circle cx="507.73" cy="112.59" r="2.75"/><circle cx="508.41" cy="112.47" r="2.75"/><circle cx="509.06" cy="112.34" r="2.75"/><circle cx="509.69" cy="112.21" r="2.75"/><circle cx="510.3" cy="112.06" r="2.75"/><circle cx="510.89" cy="111.88" r="2.75"/><circle cx="511.46" cy="111.67" r="2.75"/><circle cx="512.01" cy="111.45" r="2.75"/><circle cx="512.55" cy="111.21" r="2.75"/><circle cx="513.07" cy="110.97" r="2.75"/><circle cx="513.58" cy="110.72" r="2.75"/><circle cx="514.08" cy="110.47" r="2.75"/><circle cx="514.56" cy="110.23" r="2.75"/><circle cx="515.03" cy="109.99" r="2.75"/><circle cx="515.48" cy="109.75" r="2.75"/><circle cx="515.93" cy="109.51" r="2.75"/><circle cx="516.37" cy="109.28" r="2.75"/><circle cx="516.79" cy="109.04" r="2.75"/><circle cx="517.21" cy="108.8" r="2.75"/><circle cx="517.62" cy="108.56" r="2.75"/><circle cx="518.01" cy="108.32" r="2.75"/><circle cx="518.4" cy="108.08" r="2.75"/><circle cx="518.79" cy="107.83" r="2.75"/><circle cx="519.16" cy="107.58" r="2.75"/><circle cx="519.53" cy="107.33" r="2.75"/><circle cx="519.89" cy="107.08" r="2.75"/><circle cx="520.24" cy="106.83" r="2.75"/><circle cx="520.58" cy="106.57" r="2.75"/><circle cx="520.92" cy="106.31" r="2.75"/><circle cx="521.26" cy="106.05" r="2.75"/><circle cx="521.58" cy="105.79" r="2.75"/><circle cx="521.9" cy="105.52" r="2.75"/><circle cx="522.22" cy="105.24" r="2.75"/><circle cx="522.53" cy="104.97" r="2.75"/><circle cx="522.84" cy="104.68" r="2.75"/><circle cx="523.14" cy="104.39" r="2.75"/><circle cx="523.43" cy="104.1" r="2.75"/><circle cx="523.72" cy="103.8" r="2.75"/><circle cx="524.01" cy="103.49" r="2.75"/><circle cx="524.29" cy="103.17" r="2.75"/><circle cx="524.57" cy="102.83" r="2.75"/><circle cx="524.84" cy="102.48" r="2.75"/><circle cx="525.11" cy="102.12" r="2.75"/><circle cx="525.38" cy="101.75" r="2.75"/><circle cx="525.64" cy="101.37" r="2.75"/><circle cx="525.9" cy="100.99" r="2.75"/><circle cx="526.16" cy="100.6" r="2.75"/><circle cx="526.41" cy="100.21" r="2.75"/><circle cx="526.65" cy="99.83" r="2.75"/><circle cx="526.9" cy="99.45" r="2.75"/><circle cx="527.14" cy="99.07" r="2.75"/><circle cx="527.38" cy="98.69" r="2.75"/><circle cx="527.61" cy="98.32" r="2.75"/><circle cx="527.85" cy="97.95" r="2.75"/><circle cx="528.08" cy="97.58" r="2.75"/><circle cx="528.3" cy="97.2" r="2.75"/><circle cx="528.53" cy="96.83" r="2.75"/><circle cx="528.75" cy="96.45" r="2.75"/><circle cx="528.97" cy="96.08" r="2.75"/><circle cx="529.18" cy="95.71" r="2.75"/><circle cx="529.39" cy="95.33" r="2.75"/><circle cx="529.61" cy="94.96" r="2.75"/><circle cx="529.81" cy="94.59" r="2.75"/><circle cx="530.02" cy="94.22" r="2.75"/><circle cx="530.22" cy="93.85" r="2.75"/><circle cx="530.43" cy="93.48" r="2.75"/><circle cx="530.63" cy="93.12" r="2.75"/><circle cx="530.82" cy="92.76" r="2.75"/><circle cx="531.02" cy="92.4" r="2.75"/><circle cx="531.21" cy="92.04" r="2.75"/><circle cx="531.4" cy="91.68" r="2.75"/><circle cx="531.59" cy="91.33" r="2.75"/><circle cx="531.78" cy="90.97" r="2.75"/><circle cx="531.96" cy="90.62" r="2.75"/><circle cx="532.15" cy="90.26" r="2.75"/><circle cx="532.33" cy="89.9" r="2.75"/><circle cx="532.51" cy="89.55" r="2.75"/><circle cx="532.69" cy="89.19" r="2.75"/><circle cx="532.86" cy="88.84" r="2.75"/><circle cx="533.04" cy="88.48" r="2.75"/><circle cx="533.21" cy="88.13" r="2.75"/><circle cx="533.38" cy="87.78" r="2.75"/><circle cx="533.55" cy="87.43" r="2.75"/><circle cx="533.72" cy="87.09" r="2.75"/><circle cx="533.89" cy="86.74" r="2.75"/><circle cx="534.05" cy="86.4" r="2.75"/><circle cx="534.22" cy="86.07" r="2.75"/><circle cx="534.38" cy="85.73" r="2.75"/><circle cx="534.54" cy="85.4" r="2.75"/><circle cx="534.7" cy="85.08" r="2.75"/><circle cx="534.86" cy="84.76" r="2.75"/><circle cx="535.02" cy="84.44" r="2.75"/><circle cx="535.17" cy="84.13" r="2.75"/><circle cx="535.33" cy="83.82" r="2.75"/><circle cx="535.48" cy="83.51" r="2.75"/><circle cx="535.63" cy="83.21" r="2.75"/><circle cx="535.64" cy="83.2" r="2.75"/><circle cx="537.15" cy="80.26" r="2.75"/><circle cx="538.55" cy="77.51" r="2.75"/><circle cx="539.85" cy="75.06" r="2.75"/><circle cx="541.06" cy="72.95" r="2.75"/><circle cx="542.2" cy="71.22" r="2.75"/><circle cx="543.27" cy="69.76" r="2.75"/><circle cx="544.28" cy="68.49" r="2.75"/><circle cx="545.24" cy="67.37" r="2.75"/><circle cx="546.16" cy="66.37" r="2.75"/><circle cx="547.02" cy="65.48" r="2.75"/><circle cx="547.85" cy="64.64" r="2.75"/><circle cx="548.65" cy="63.87" r="2.75"/><circle cx="549.41" cy="63.18" r="2.75"/><circle cx="550.14" cy="62.58" r="2.75"/><circle cx="550.84" cy="62.1" r="2.75"/><circle cx="551.52" cy="61.71" r="2.75"/><circle cx="552.17" cy="61.38" r="2.75"/><circle cx="552.8" cy="61.09" r="2.75"/><circle cx="553.41" cy="60.84" r="2.75"/><circle cx="554" cy="60.6" r="2.75"/><circle cx="554.58" cy="60.37" r="2.75"/><circle cx="555.13" cy="60.15" r="2.75"/><circle cx="555.67" cy="59.93" r="2.75"/><circle cx="556.19" cy="59.7" r="2.75"/><circle cx="556.7" cy="59.46" r="2.75"/><circle cx="557.2" cy="59.24" r="2.75"/><circle cx="557.68" cy="59.02" r="2.75"/><circle cx="558.15" cy="58.82" r="2.75"/><circle cx="558.6" cy="58.63" r="2.75"/><circle cx="559.05" cy="58.47" r="2.75"/><circle cx="559.49" cy="58.33" r="2.75"/><circle cx="559.91" cy="58.22" r="2.75"/><circle cx="560.33" cy="58.13" r="2.75"/><circle cx="560.74" cy="58.05" r="2.75"/><circle cx="561.14" cy="57.99" r="2.75"/><circle cx="561.53" cy="57.93" r="2.75"/><circle cx="561.91" cy="57.88" r="2.75"/><circle cx="562.28" cy="57.83" r="2.75"/><circle cx="562.65" cy="57.79" r="2.75"/><circle cx="563.01" cy="57.75" r="2.75"/><circle cx="563.36" cy="57.72" r="2.75"/><circle cx="563.71" cy="57.68" r="2.75"/><circle cx="564.05" cy="57.64" r="2.75"/><circle cx="564.38" cy="57.6" r="2.75"/><circle cx="564.71" cy="57.56" r="2.75"/><circle cx="565.03" cy="57.52" r="2.75"/><circle cx="565.34" cy="57.48" r="2.75"/><circle cx="565.66" cy="57.43" r="2.75"/><circle cx="565.96" cy="57.37" r="2.75"/><circle cx="566.26" cy="57.32" r="2.75"/><circle cx="566.56" cy="57.25" r="2.75"/><circle cx="566.85" cy="57.19" r="2.75"/><circle cx="567.14" cy="57.11" r="2.75"/><circle cx="567.42" cy="57.02" r="2.75"/><circle cx="567.7" cy="56.92" r="2.75"/><circle cx="567.97" cy="56.81" r="2.75"/><circle cx="568.24" cy="56.7" r="2.75"/><circle cx="568.51" cy="56.57" r="2.75"/><circle cx="568.77" cy="56.44" r="2.75"/><circle cx="569.03" cy="56.31" r="2.75"/><circle cx="569.28" cy="56.17" r="2.75"/><circle cx="569.53" cy="56.04" r="2.75"/><circle cx="569.78" cy="55.9" r="2.75"/><circle cx="570.02" cy="55.75" r="2.75"/><circle cx="570.27" cy="55.61" r="2.75"/><circle cx="570.5" cy="55.47" r="2.75"/><circle cx="570.74" cy="55.34" r="2.75"/><circle cx="570.97" cy="55.2" r="2.75"/><circle cx="571.2" cy="55.05" r="2.75"/><circle cx="571.43" cy="54.91" r="2.75"/><circle cx="571.65" cy="54.76" r="2.75"/><circle cx="571.8" cy="54.66" r="2.75"/><circle cx="573.88" cy="53.04" r="2.75"/><circle cx="575.76" cy="51.36" r="2.75"/><circle cx="577.46" cy="49.61" r="2.75"/><circle cx="579.01" cy="47.81" r="2.75"/><circle cx="580.44" cy="46.03" r="2.75"/><circle cx="581.77" cy="44.16" r="2.75"/><circle cx="583.02" cy="42.35" r="2.75"/><circle cx="584.18" cy="40.77" r="2.75"/><circle cx="585.27" cy="39.35" r="2.75"/><circle cx="586.3" cy="38.04" r="2.75"/><circle cx="587.28" cy="36.86" r="2.75"/><circle cx="588.21" cy="35.82" r="2.75"/><circle cx="589.09" cy="34.91" r="2.75"/><circle cx="589.93" cy="34.07" r="2.75"/><circle cx="590.74" cy="33.24" r="2.75"/><circle cx="591.51" cy="32.47" r="2.75"/><circle cx="592.25" cy="31.77" r="2.75"/><circle cx="592.96" cy="31.17" r="2.75"/><circle cx="593.65" cy="30.66" r="2.75"/><circle cx="594.31" cy="30.27" r="2.75"/><circle cx="594.95" cy="30" r="2.75"/><circle cx="595.56" cy="29.84" r="2.75"/><circle cx="596.16" cy="29.71" r="2.75"/><circle cx="596.74" cy="29.59" r="2.75"/><circle cx="597.3" cy="29.49" r="2.75"/><circle cx="597.84" cy="29.41" r="2.75"/><circle cx="598.37" cy="29.33" r="2.75"/><circle cx="598.88" cy="29.28" r="2.75"/><circle cx="599.38" cy="29.24" r="2.75"/><circle cx="599.87" cy="29.21" r="2.75"/><circle cx="600.34" cy="29.2" r="2.75"/><circle cx="600.8" cy="29.2" r="2.75"/><circle cx="601.25" cy="29.21" r="2.75"/><circle cx="601.69" cy="29.23" r="2.75"/><circle cx="602.12" cy="29.25" r="2.75"/><circle cx="602.54" cy="29.28" r="2.75"/><circle cx="602.95" cy="29.31" r="2.75"/><circle cx="603.35" cy="29.34" r="2.75"/><circle cx="603.75" cy="29.37" r="2.75"/><circle cx="604.13" cy="29.41" r="2.75"/><circle cx="604.51" cy="29.45" r="2.75"/><circle cx="604.88" cy="29.49" r="2.75"/><circle cx="605.24" cy="29.53" r="2.75"/><circle cx="605.59" cy="29.57" r="2.75"/><circle cx="605.94" cy="29.62" r="2.75"/><circle cx="606.28" cy="29.68" r="2.75"/><circle cx="606.62" cy="29.75" r="2.75"/><circle cx="606.95" cy="29.83" r="2.75"/><circle cx="607.27" cy="29.93" r="2.75"/><circle cx="607.59" cy="30.03" r="2.75"/><circle cx="607.9" cy="30.14" r="2.75"/><circle cx="608.21" cy="30.26" r="2.75"/><circle cx="608.51" cy="30.38" r="2.75"/><circle cx="608.81" cy="30.5" r="2.75"/><circle cx="609.1" cy="30.63" r="2.75"/><circle cx="609.39" cy="30.75" r="2.75"/><circle cx="609.67" cy="30.88" r="2.75"/><circle cx="609.95" cy="31.01" r="2.75"/><circle cx="610.23" cy="31.13" r="2.75"/><circle cx="610.5" cy="31.25" r="2.75"/><circle cx="610.77" cy="31.37" r="2.75"/><circle cx="611.03" cy="31.48" r="2.75"/><circle cx="611.29" cy="31.6" r="2.75"/><circle cx="611.55" cy="31.71" r="2.75"/><circle cx="611.8" cy="31.82" r="2.75"/><circle cx="612.05" cy="31.94" r="2.75"/><circle cx="612.29" cy="32.05" r="2.75"/><circle cx="612.54" cy="32.17" r="2.75"/><circle cx="612.78" cy="32.29" r="2.75"/><circle cx="613.01" cy="32.42" r="2.75"/><circle cx="613.25" cy="32.54" r="2.75"/><circle cx="613.48" cy="32.66" r="2.75"/><circle cx="613.7" cy="32.78" r="2.75"/><circle cx="613.93" cy="32.9" r="2.75"/><circle cx="614.15" cy="33.02" r="2.75"/><circle cx="614.37" cy="33.14" r="2.75"/><circle cx="614.59" cy="33.25" r="2.75"/><circle cx="614.8" cy="33.37" r="2.75"/><circle cx="615.01" cy="33.48" r="2.75"/><circle cx="615.22" cy="33.59" r="2.75"/><circle cx="615.43" cy="33.69" r="2.75"/><circle cx="615.63" cy="33.8" r="2.75"/><circle cx="615.84" cy="33.9" r="2.75"/><circle cx="616.04" cy="33.99" r="2.75"/><circle cx="616.23" cy="34.09" r="2.75"/><circle cx="616.43" cy="34.18" r="2.75"/><circle cx="616.62" cy="34.27" r="2.75"/><circle cx="616.82" cy="34.35" r="2.75"/><circle cx="617.01" cy="34.43" r="2.75"/><circle cx="617.19" cy="34.51" r="2.75"/><circle cx="617.38" cy="34.59" r="2.75"/><circle cx="617.56" cy="34.67" r="2.75"/><circle cx="617.75" cy="34.74" r="2.75"/><circle cx="617.93" cy="34.82" r="2.75"/><circle cx="618.11" cy="34.89" r="2.75"/><circle cx="618.28" cy="34.96" r="2.75"/><circle cx="618.46" cy="35.03" r="2.75"/><circle cx="618.63" cy="35.1" r="2.75"/><circle cx="618.8" cy="35.17" r="2.75"/><circle cx="618.98" cy="35.23" r="2.75"/><circle cx="619.14" cy="35.3" r="2.75"/><circle cx="619.31" cy="35.36" r="2.75"/><circle cx="619.48" cy="35.43" r="2.75"/><circle cx="619.64" cy="35.49" r="2.75"/><circle cx="619.81" cy="35.55" r="2.75"/><circle cx="619.97" cy="35.61" r="2.75"/><circle cx="620.13" cy="35.67" r="2.75"/><circle cx="620.29" cy="35.73" r="2.75"/><circle cx="620.44" cy="35.79" r="2.75"/><circle cx="620.6" cy="35.85" r="2.75"/><circle cx="620.75" cy="35.91" r="2.75"/><circle cx="620.91" cy="35.96" r="2.75"/><circle cx="621.06" cy="36.02" r="2.75"/><circle cx="621.21" cy="36.07" r="2.75"/><circle cx="621.36" cy="36.13" r="2.75"/><circle cx="621.51" cy="36.18" r="2.75"/><circle cx="621.66" cy="36.24" r="2.75"/><circle cx="621.8" cy="36.29" r="2.75"/><circle cx="621.95" cy="36.34" r="2.75"/><circle cx="622.09" cy="36.4" r="2.75"/><circle cx="622.23" cy="36.45" r="2.75"/><circle cx="622.38" cy="36.5" r="2.75"/><circle cx="622.52" cy="36.55" r="2.75"/><circle cx="622.66" cy="36.6" r="2.75"/><circle cx="622.79" cy="36.65" r="2.75"/><circle cx="622.93" cy="36.7" r="2.75"/><circle cx="623.07" cy="36.75" r="2.75"/><circle cx="623.2" cy="36.8" r="2.75"/><circle cx="623.34" cy="36.85" r="2.75"/><circle cx="623.47" cy="36.9" r="2.75"/><circle cx="623.6" cy="36.94" r="2.75"/><circle cx="623.74" cy="36.99" r="2.75"/><circle cx="623.87" cy="37.03" r="2.75"/><circle cx="624" cy="37.08" r="2.75"/><circle cx="624.12" cy="37.13" r="2.75"/><circle cx="624.25" cy="37.17" r="2.75"/><circle cx="624.38" cy="37.21" r="2.75"/><circle cx="624.51" cy="37.26" r="2.75"/><circle cx="624.63" cy="37.3" r="2.75"/><circle cx="624.76" cy="37.35" r="2.75"/><circle cx="624.88" cy="37.39" r="2.75"/><circle cx="625" cy="37.43" r="2.75"/><circle cx="625.12" cy="37.47" r="2.75"/><circle cx="625.24" cy="37.51" r="2.75"/><circle cx="625.37" cy="37.55" r="2.75"/><circle cx="625.48" cy="37.59" r="2.75"/><circle cx="625.6" cy="37.64" r="2.75"/><circle cx="625.72" cy="37.68" r="2.75"/><circle cx="625.84" cy="37.71" r="2.75"/><circle cx="625.96" cy="37.75" r="2.75"/><circle cx="626.07" cy="37.79" r="2.75"/><circle cx="626.19" cy="37.83" r="2.75"/><circle cx="626.3" cy="37.87" r="2.75"/><circle cx="626.41" cy="37.91" r="2.75"/><circle cx="626.53" cy="37.94" r="2.75"/><circle cx="626.64" cy="37.98" r="2.75"/><circle cx="626.75" cy="38.02" r="2.75"/><circle cx="626.86" cy="38.05" r="2.75"/></g>
<line x1="393.5" y1="225.8" x2="635.6" y2="225.8" stroke="#000" stroke-width="1.6"/>
<line x1="393.5" y1="199.7" x2="635.6" y2="199.7" stroke="#000" stroke-width="1.6"/>
<g stroke="#262626" stroke-width="1" fill="none">
<rect x="393.5" y="21.7" width="242.1" height="232.7"/>
<line x1="402.4" y1="254.2" x2="402.4" y2="261.6"/>
<line x1="444.75" y1="254.2" x2="444.75" y2="261.6"/>
<line x1="487.1" y1="254.2" x2="487.1" y2="261.6"/>
<line x1="529.45" y1="254.2" x2="529.45" y2="261.6"/>
<line x1="571.8" y1="254.2" x2="571.8" y2="261.6"/>
<line x1="614.15" y1="254.2" x2="614.15" y2="261.6"/>
<line x1="386.3" y1="245.8" x2="393.5" y2="245.8"/>
<line x1="386.3" y1="215.04" x2="393.5" y2="215.04"/>
<line x1="386.3" y1="184.28" x2="393.5" y2="184.28"/>
<line x1="386.3" y1="153.52" x2="393.5" y2="153.52"/>
<line x1="386.3" y1="122.76" x2="393.5" y2="122.76"/>
<line x1="386.3" y1="92" x2="393.5" y2="92"/>
<line x1="386.3" y1="61.24" x2="393.5" y2="61.24"/>
<line x1="386.3" y1="30.48" x2="393.5" y2="30.48"/>
<line x1="635.6" y1="240.3" x2="642.8" y2="240.3"/>
<line x1="635.6" y1="198.28" x2="642.8" y2="198.28"/>
<line x1="635.6" y1="156.26" x2="642.8" y2="156.26"/>
<line x1="635.6" y1="114.24" x2="642.8" y2="114.24"/>
<line x1="635.6" y1="72.22" x2="642.8" y2="72.22"/>
<line x1="635.6" y1="30.2" x2="642.8" y2="30.2"/>
</g>
<g font-family='&quot;Liberation Sans&quot;, sans-serif' fill="#000" stroke="#000" stroke-width="0.18">
<text x="394" y="279.3" font-size="11.45" text-anchor="start">10</text>
<text x="406.93" y="274.2" font-size="8.4" text-anchor="start">1</text>
<text x="436.35" y="279.3" font-size="11.45" text-anchor="start">10</text>
<text x="449.28" y="274.2" font-size="8.4" text-anchor="start">2</text>
<text x="478.7" y="279.3" font-size="11.45" text-anchor="start">10</text>
<text x="491.63" y="274.2" font-size="8.4" text-anchor="start">3</text>
<text x="521.05" y="279.3" font-size="11.45" text-anchor="start">10</text>
<text x="533.98" y="274.2" font-size="8.4" text-anchor="start">4</text>
<text x="563.4" y="279.3" font-size="11.45" text-anchor="start">10</text>
<text x="576.33" y="274.2" font-size="8.4" text-anchor="start">5</text>
<text x="605.75" y="279.3" font-size="11.45" text-anchor="start">10</text>
<text x="618.68" y="274.2" font-size="8.4" text-anchor="start">6</text>
<text x="0" y="0" font-size="11.45" text-anchor="middle" transform="translate(376.4 245.8) rotate(-90)">0</text>
<text x="0" y="0" font-size="11.45" text-anchor="middle" transform="translate(376.4 215.04) rotate(-90)">2</text>
<text x="0" y="0" font-size="11.45" text-anchor="middle" transform="translate(376.4 184.28) rotate(-90)">4</text>
<text x="0" y="0" font-size="11.45" text-anchor="middle" transform="translate(376.4 153.52) rotate(-90)">6</text>
<text x="0" y="0" font-size="11.45" text-anchor="middle" transform="translate(376.4 122.76) rotate(-90)">8</text>
<text x="0" y="0" font-size="11.45" text-anchor="middle" transform="translate(376.4 92) rotate(-90)">10</text>
<text x="0" y="0" font-size="11.45" text-anchor="middle" transform="translate(376.4 61.24) rotate(-90)">12</text>
<text x="0" y="0" font-size="11.45" text-anchor="middle" transform="translate(376.4 30.48) rotate(-90)">14</text>
<text x="0" y="0" font-size="11.45" text-anchor="middle" transform="translate(660.9 240.3) rotate(-90)">0.0</text>
<text x="0" y="0" font-size="11.45" text-anchor="middle" transform="translate(660.9 198.28) rotate(-90)">0.2</text>
<text x="0" y="0" font-size="11.45" text-anchor="middle" transform="translate(660.9 156.26) rotate(-90)">0.4</text>
<text x="0" y="0" font-size="11.45" text-anchor="middle" transform="translate(660.9 114.24) rotate(-90)">0.6</text>
<text x="0" y="0" font-size="11.45" text-anchor="middle" transform="translate(660.9 72.22) rotate(-90)">0.8</text>
<text x="0" y="0" font-size="11.45" text-anchor="middle" transform="translate(660.9 30.2) rotate(-90)">1.0</text>
<text x="0" y="0" font-size="11.6" text-anchor="middle" transform="translate(363 138.7) rotate(-90)">- log10 p-value of the effect</text>
<text x="0" y="0" font-size="11.45" text-anchor="middle" transform="translate(673.9 137.9) rotate(-90)">Relative variable fluorescence Vt</text>
<text x="514.55" y="290.5" font-size="11.45" text-anchor="middle">Time [µs]</text>
<text x="398.4" y="223.6" font-size="11.45" text-anchor="start">p = 0.05</text>
<text x="398.4" y="197.4" font-size="11.45" text-anchor="start">p = 0.001</text>
<text x="482.5" y="178" font-size="7.45" text-anchor="middle">0.61 ms</text>
<text x="515.3" y="192.3" font-size="7.45" text-anchor="middle">3.92 ms</text>
<text x="543" y="197.2" font-size="7.45" text-anchor="middle">17.3 ms</text>
<text x="558.6" y="214.2" font-size="7.45" text-anchor="middle">40.3 ms</text>
<text x="591.8" y="52.5" font-size="7.45" text-anchor="middle">252 ms</text>
<text x="616.7" y="64.5" font-size="7.45" text-anchor="middle">982 ms</text>
<text x="592.8" y="141.2" font-size="7.45" text-anchor="middle">262 ms</text>
<text x="611" y="161" font-size="7.45" text-anchor="middle">702 ms</text>
<text x="360.5" y="14.5" font-size="18.4" text-anchor="start">b</text>
<text x="414.3" y="40.3" font-size="11.45" text-anchor="start">Time of day</text>
<text x="414.3" y="54" font-size="11.45" text-anchor="start">Provenance</text>
<text x="414.3" y="67.7" font-size="11.45" text-anchor="start">Vt</text>
</g>
<circle cx="403.8" cy="35.6" r="2.7" fill="#E41A1C"/>
<circle cx="403.8" cy="49.5" r="2.7" fill="#377EB8"/>
<circle cx="403.8" cy="63.2" r="2.5" fill="none" stroke="#000" stroke-width="0.85"/>
</svg>
</body></html>
